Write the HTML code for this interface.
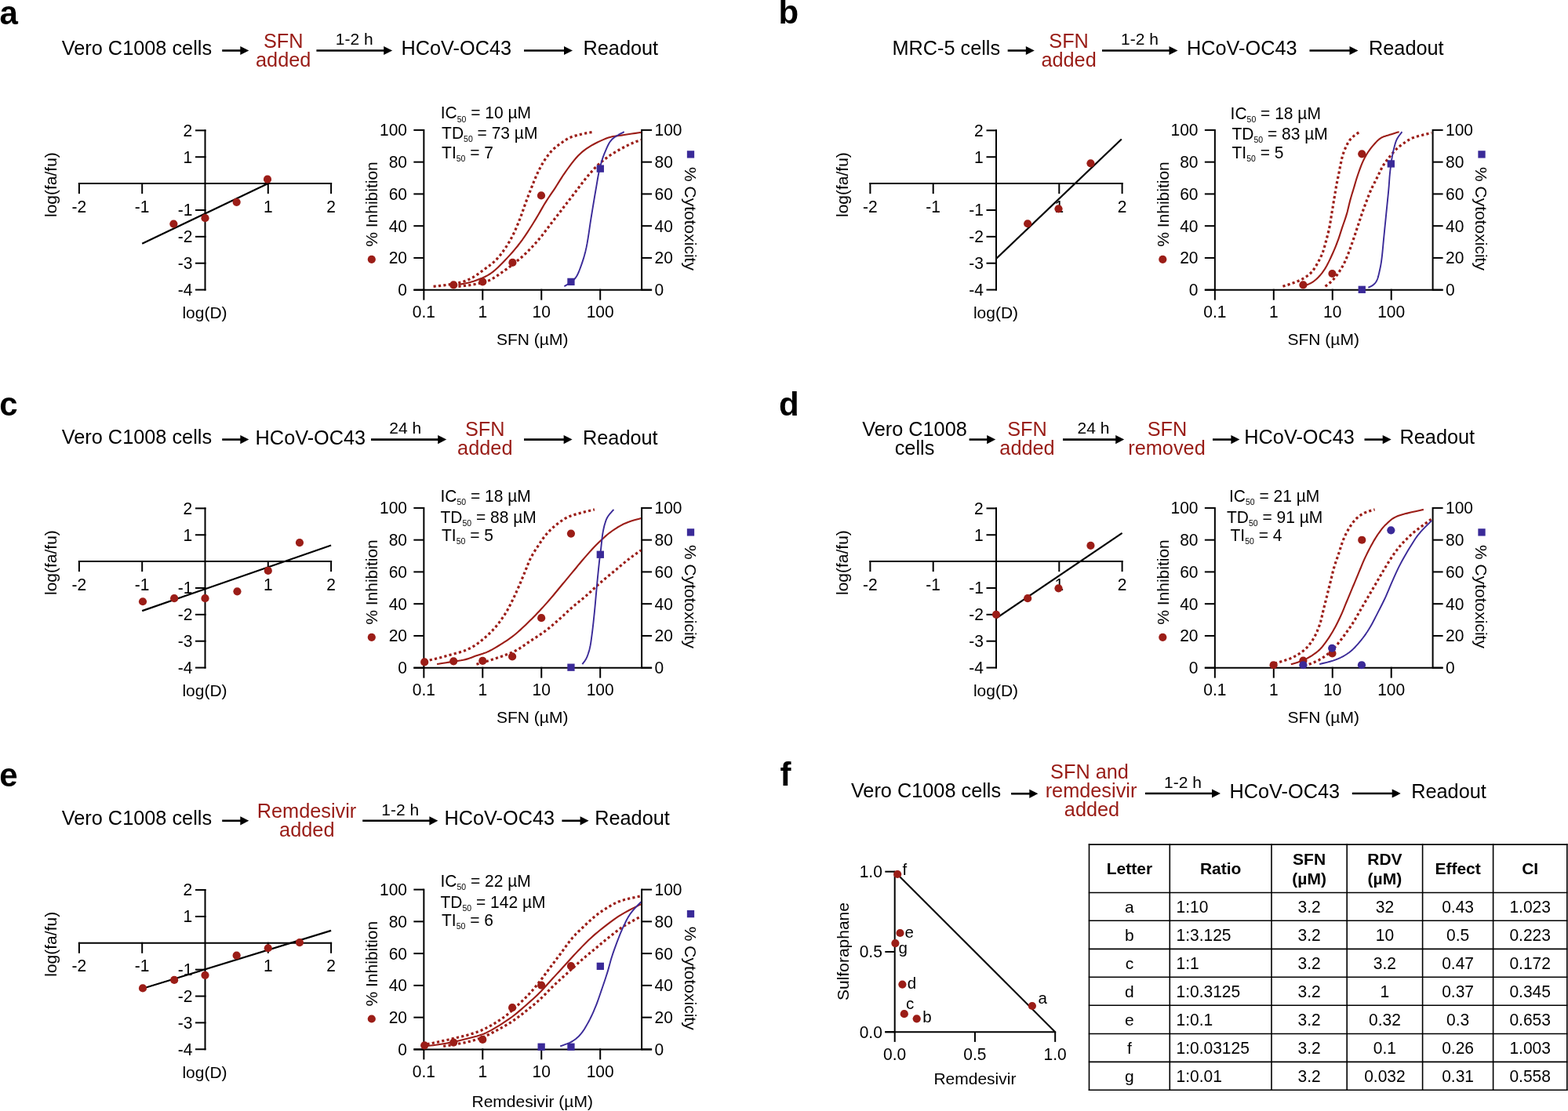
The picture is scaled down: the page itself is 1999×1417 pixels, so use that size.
<!DOCTYPE html>
<html><head><meta charset="utf-8"><title>Figure</title>
<style>html,body{margin:0;padding:0;background:#fff;overflow:hidden;}svg{display:block;}</style></head>
<body><svg width="1999" height="1417" viewBox="0 0 1999 1417" font-family="'Liberation Sans', Arial, Helvetica, sans-serif">
<rect width="1999" height="1417" fill="#fff"/>
<text x="-0.40" y="31.00" font-size="42" text-anchor="start" font-weight="bold" >a</text>
<text x="78.80" y="69.50" font-size="25.3" text-anchor="start" >Vero C1008 cells</text>
<line x1="283.20" y1="64.50" x2="307.30" y2="64.50" stroke="#000" stroke-width="2.6" />
<polygon points="306.30,58.90 317.30,64.50 306.30,70.10" fill="#000"/>
<text x="361.20" y="60.60" font-size="25.3" text-anchor="middle" fill="#981b15" >SFN</text>
<text x="361.20" y="84.50" font-size="25.3" text-anchor="middle" fill="#981b15" >added</text>
<text x="451.80" y="57.00" font-size="21" text-anchor="middle" >1-2 h</text>
<line x1="403.40" y1="64.50" x2="490.20" y2="64.50" stroke="#000" stroke-width="2.6" />
<polygon points="489.20,58.90 500.20,64.50 489.20,70.10" fill="#000"/>
<text x="511.50" y="70.00" font-size="25.3" text-anchor="start" >HCoV-OC43</text>
<line x1="668.00" y1="64.50" x2="720.00" y2="64.50" stroke="#000" stroke-width="2.6" />
<polygon points="719.00,58.90 730.00,64.50 719.00,70.10" fill="#000"/>
<text x="743.50" y="70.00" font-size="25.3" text-anchor="start" >Readout</text>
<line x1="99.90" y1="234.10" x2="423.10" y2="234.10" stroke="#000" stroke-width="2" />
<line x1="100.90" y1="233.10" x2="100.90" y2="247.10" stroke="#000" stroke-width="2" />
<text transform="translate(100.90,270.60) scale(1.0,1.03)" font-size="21" text-anchor="middle" >-2</text>
<line x1="181.20" y1="233.10" x2="181.20" y2="247.10" stroke="#000" stroke-width="2" />
<text transform="translate(181.20,270.60) scale(1.0,1.03)" font-size="21" text-anchor="middle" >-1</text>
<line x1="341.80" y1="233.10" x2="341.80" y2="247.10" stroke="#000" stroke-width="2" />
<text transform="translate(341.80,270.60) scale(1.0,1.03)" font-size="21" text-anchor="middle" >1</text>
<line x1="422.10" y1="233.10" x2="422.10" y2="247.10" stroke="#000" stroke-width="2" />
<text transform="translate(422.10,270.60) scale(1.0,1.03)" font-size="21" text-anchor="middle" >2</text>
<line x1="261.50" y1="165.36" x2="261.50" y2="370.58" stroke="#000" stroke-width="2" />
<line x1="249.00" y1="166.36" x2="262.50" y2="166.36" stroke="#000" stroke-width="2" />
<text transform="translate(245.30,173.76) scale(1.0,1.03)" font-size="21" text-anchor="end" >2</text>
<line x1="249.00" y1="200.23" x2="262.50" y2="200.23" stroke="#000" stroke-width="2" />
<text transform="translate(245.30,207.63) scale(1.0,1.03)" font-size="21" text-anchor="end" >1</text>
<line x1="249.00" y1="267.97" x2="262.50" y2="267.97" stroke="#000" stroke-width="2" />
<text transform="translate(245.30,275.37) scale(1.0,1.03)" font-size="21" text-anchor="end" >-1</text>
<line x1="249.00" y1="301.84" x2="262.50" y2="301.84" stroke="#000" stroke-width="2" />
<text transform="translate(245.30,309.24) scale(1.0,1.03)" font-size="21" text-anchor="end" >-2</text>
<line x1="249.00" y1="335.71" x2="262.50" y2="335.71" stroke="#000" stroke-width="2" />
<text transform="translate(245.30,343.11) scale(1.0,1.03)" font-size="21" text-anchor="end" >-3</text>
<line x1="249.00" y1="369.58" x2="262.50" y2="369.58" stroke="#000" stroke-width="2" />
<text transform="translate(245.30,376.98) scale(1.0,1.03)" font-size="21" text-anchor="end" >-4</text>
<text x="261.00" y="406.00" font-size="21" text-anchor="middle" >log(D)</text>
<text transform="translate(72.30,235.60) rotate(-90)" font-size="21" text-anchor="middle">log(fa/fu)</text>
<line x1="181.20" y1="310.65" x2="341.80" y2="234.10" stroke="#000" stroke-width="2.2" />
<circle cx="221.35" cy="285.58" r="5.1" fill="#9b1d17"/>
<circle cx="261.50" cy="278.13" r="5.1" fill="#9b1d17"/>
<circle cx="301.65" cy="257.81" r="5.1" fill="#9b1d17"/>
<circle cx="341.00" cy="228.68" r="5.1" fill="#9b1d17"/>
<line x1="527.35" y1="369.70" x2="831.10" y2="369.70" stroke="#000" stroke-width="2" />
<line x1="540.35" y1="164.90" x2="540.35" y2="370.70" stroke="#000" stroke-width="2" />
<line x1="818.10" y1="164.90" x2="818.10" y2="370.70" stroke="#000" stroke-width="2" />
<line x1="527.35" y1="369.70" x2="540.35" y2="369.70" stroke="#000" stroke-width="2" />
<line x1="818.10" y1="369.70" x2="831.10" y2="369.70" stroke="#000" stroke-width="2" />
<text transform="translate(519.05,377.10) scale(1.0,1.03)" font-size="21" text-anchor="end" >0</text>
<text transform="translate(834.50,377.10) scale(1.0,1.03)" font-size="21" text-anchor="start" >0</text>
<line x1="527.35" y1="328.94" x2="540.35" y2="328.94" stroke="#000" stroke-width="2" />
<line x1="818.10" y1="328.94" x2="831.10" y2="328.94" stroke="#000" stroke-width="2" />
<text transform="translate(519.05,336.34) scale(1.0,1.03)" font-size="21" text-anchor="end" >20</text>
<text transform="translate(834.50,336.34) scale(1.0,1.03)" font-size="21" text-anchor="start" >20</text>
<line x1="527.35" y1="288.18" x2="540.35" y2="288.18" stroke="#000" stroke-width="2" />
<line x1="818.10" y1="288.18" x2="831.10" y2="288.18" stroke="#000" stroke-width="2" />
<text transform="translate(519.05,295.58) scale(1.0,1.03)" font-size="21" text-anchor="end" >40</text>
<text transform="translate(834.50,295.58) scale(1.0,1.03)" font-size="21" text-anchor="start" >40</text>
<line x1="527.35" y1="247.42" x2="540.35" y2="247.42" stroke="#000" stroke-width="2" />
<line x1="818.10" y1="247.42" x2="831.10" y2="247.42" stroke="#000" stroke-width="2" />
<text transform="translate(519.05,254.82) scale(1.0,1.03)" font-size="21" text-anchor="end" >60</text>
<text transform="translate(834.50,254.82) scale(1.0,1.03)" font-size="21" text-anchor="start" >60</text>
<line x1="527.35" y1="206.66" x2="540.35" y2="206.66" stroke="#000" stroke-width="2" />
<line x1="818.10" y1="206.66" x2="831.10" y2="206.66" stroke="#000" stroke-width="2" />
<text transform="translate(519.05,214.06) scale(1.0,1.03)" font-size="21" text-anchor="end" >80</text>
<text transform="translate(834.50,214.06) scale(1.0,1.03)" font-size="21" text-anchor="start" >80</text>
<line x1="527.35" y1="165.90" x2="540.35" y2="165.90" stroke="#000" stroke-width="2" />
<line x1="818.10" y1="165.90" x2="831.10" y2="165.90" stroke="#000" stroke-width="2" />
<text transform="translate(519.05,173.30) scale(1.0,1.03)" font-size="21" text-anchor="end" >100</text>
<text transform="translate(834.50,173.30) scale(1.0,1.03)" font-size="21" text-anchor="start" >100</text>
<line x1="540.35" y1="368.70" x2="540.35" y2="382.70" stroke="#000" stroke-width="2" />
<text transform="translate(540.35,405.40) scale(1.0,1.03)" font-size="21" text-anchor="middle" >0.1</text>
<line x1="615.30" y1="368.70" x2="615.30" y2="382.70" stroke="#000" stroke-width="2" />
<text transform="translate(615.30,405.40) scale(1.0,1.03)" font-size="21" text-anchor="middle" >1</text>
<line x1="690.25" y1="368.70" x2="690.25" y2="382.70" stroke="#000" stroke-width="2" />
<text transform="translate(690.25,405.40) scale(1.0,1.03)" font-size="21" text-anchor="middle" >10</text>
<line x1="765.20" y1="368.70" x2="765.20" y2="382.70" stroke="#000" stroke-width="2" />
<text transform="translate(765.20,405.40) scale(1.0,1.03)" font-size="21" text-anchor="middle" >100</text>
<text x="678.73" y="439.50" font-size="21" text-anchor="middle" >SFN (µM)</text>
<text transform="translate(481.00,260.50) rotate(-90)" font-size="21" text-anchor="middle">% Inhibition</text>
<text transform="translate(872.50,279.00) rotate(90)" font-size="21" text-anchor="middle">% Cytotoxicity</text>
<circle cx="473.80" cy="330.80" r="5.1" fill="#9b1d17"/>
<rect x="875.85" y="192.25" width="9.3" height="9.3" fill="#3a2a98"/>
<text transform="translate(561.70,151.40) scale(1,1.03)" font-size="21">IC<tspan font-size="10.5" dy="4">50</tspan><tspan dy="-4"> = 10 µM</tspan></text>
<text transform="translate(563.10,177.00) scale(1,1.03)" font-size="21">TD<tspan font-size="10.5" dy="4">50</tspan><tspan dy="-4"> = 73 µM</tspan></text>
<text transform="translate(563.10,201.50) scale(1,1.03)" font-size="21">TI<tspan font-size="10.5" dy="4">50</tspan><tspan dy="-4"> = 7</tspan></text>
<polyline points="552.60,365.31 554.45,365.11 556.99,364.86 560.01,364.55 563.28,364.19 566.57,363.80 569.65,363.38 572.60,362.94 575.63,362.49 578.68,362.00 581.70,361.45 584.63,360.83 587.44,360.12 590.08,359.34 592.60,358.50 595.03,357.60 597.43,356.59 599.82,355.47 602.26,354.19 604.73,352.73 607.20,351.11 609.67,349.37 612.14,347.55 614.61,345.68 617.08,343.81 619.59,341.96 622.13,340.08 624.68,338.16 627.18,336.18 629.61,334.12 631.91,331.95 634.07,329.69 636.13,327.34 638.11,324.91 640.03,322.40 641.91,319.81 643.77,317.13 645.60,314.37 647.39,311.53 649.14,308.61 650.85,305.60 652.52,302.51 654.14,299.34 655.73,296.05 657.27,292.64 658.77,289.15 660.24,285.62 661.66,282.08 663.04,278.59 664.36,275.11 665.62,271.62 666.83,268.12 668.03,264.64 669.23,261.21 670.45,257.84 671.68,254.52 672.92,251.25 674.15,248.02 675.39,244.82 676.62,241.67 677.86,238.57 679.08,235.50 680.28,232.47 681.47,229.49 682.69,226.54 683.95,223.64 685.27,220.78 686.65,217.94 688.07,215.12 689.53,212.35 691.04,209.63 692.58,207.00 694.17,204.47 695.77,202.04 697.40,199.69 699.08,197.43 700.81,195.25 702.62,193.15 704.54,191.13 706.63,189.18 708.88,187.29 711.21,185.48 713.55,183.77 715.80,182.19 717.88,180.75 719.72,179.49 721.34,178.39 722.89,177.42 724.47,176.53 726.22,175.67 728.26,174.82 730.68,173.97 733.39,173.15 736.27,172.37 739.19,171.64 741.99,170.97 744.57,170.38 747.03,169.85 749.51,169.39 751.88,168.99 754.04,168.65 755.84,168.37 757.17,168.15" fill="none" stroke="#9b1d17" stroke-width="3.2" stroke-dasharray="3.2 3.2" stroke-linejoin="round"/>
<polyline points="584.47,365.31 586.37,365.10 588.97,364.84 592.07,364.52 595.45,364.13 598.92,363.65 602.26,363.08 605.58,362.46 609.07,361.79 612.64,361.05 616.20,360.17 619.69,359.14 623.01,357.90 626.15,356.41 629.16,354.71 632.09,352.85 634.98,350.87 637.87,348.83 640.80,346.78 643.80,344.68 646.84,342.49 649.88,340.25 652.88,337.97 655.80,335.69 658.59,333.44 661.23,331.25 663.75,329.10 666.19,326.95 668.58,324.76 670.98,322.49 673.41,320.09 675.88,317.58 678.35,314.99 680.82,312.31 683.29,309.55 685.77,306.71 688.24,303.79 690.71,300.75 693.18,297.58 695.65,294.34 698.12,291.05 700.59,287.76 703.06,284.52 705.53,281.31 708.00,278.09 710.47,274.88 712.94,271.67 715.41,268.46 717.88,265.25 720.35,262.04 722.82,258.82 725.29,255.61 727.77,252.40 730.24,249.19 732.71,245.98 735.18,242.73 737.65,239.44 740.12,236.16 742.59,232.91 745.06,229.75 747.53,226.71 750.00,223.77 752.47,220.89 754.94,218.09 757.41,215.40 759.88,212.83 762.35,210.40 764.82,208.13 767.30,206.01 769.77,204.01 772.24,202.11 774.71,200.29 777.18,198.54 779.65,196.87 782.12,195.30 784.59,193.82 787.06,192.39 789.53,191.01 792.00,189.65 794.52,188.28 797.11,186.93 799.69,185.62 802.21,184.38 804.61,183.24 806.82,182.24 808.93,181.36 811.00,180.59 812.94,179.92 814.68,179.35 816.12,178.89 817.20,178.53" fill="none" stroke="#9b1d17" stroke-width="3.2" stroke-dasharray="3.2 3.2" stroke-linejoin="round"/>
<polyline points="584.47,363.08 586.54,362.66 589.38,362.12 592.76,361.46 596.44,360.67 600.18,359.73 603.74,358.64 607.23,357.42 610.85,356.08 614.53,354.61 618.21,352.95 621.80,351.10 625.24,349.00 628.49,346.65 631.60,344.06 634.64,341.26 637.64,338.29 640.67,335.18 643.77,331.95 646.95,328.60 650.19,325.09 653.45,321.44 656.69,317.65 659.90,313.74 663.04,309.72 666.12,305.51 669.18,301.10 672.21,296.56 675.17,291.98 678.05,287.45 680.82,283.04 683.50,278.66 686.09,274.25 688.61,269.88 691.04,265.63 693.38,261.59 695.65,257.84 697.78,254.48 699.77,251.47 701.67,248.66 703.55,245.92 705.48,243.10 707.51,240.05 709.61,236.76 711.73,233.35 713.90,229.86 716.13,226.32 718.44,222.79 720.85,219.29 723.39,215.74 726.06,212.07 728.82,208.41 731.61,204.86 734.40,201.53 737.15,198.54 739.80,195.94 742.37,193.66 744.94,191.59 747.59,189.67 750.40,187.82 753.46,185.94 756.89,184.00 760.65,182.04 764.58,180.15 768.50,178.39 772.26,176.84 775.70,175.56 778.65,174.65 781.24,174.05 783.66,173.67 786.13,173.37 788.84,173.05 792.00,172.60 795.98,171.98 800.68,171.28 805.62,170.56 810.34,169.88 814.36,169.31 817.20,168.89" fill="none" stroke="#9b1d17" stroke-width="2.1" stroke-linejoin="round"/>
<polyline points="719.37,365.31 720.89,364.32 723.04,363.00 725.57,361.42 728.20,359.62 730.67,357.69 732.71,355.67 734.29,353.62 735.62,351.50 736.78,349.23 737.87,346.75 738.95,343.98 740.12,340.85 741.37,337.39 742.64,333.66 743.92,329.64 745.17,325.31 746.38,320.65 747.53,315.65 748.60,310.14 749.62,304.12 750.59,297.77 751.54,291.27 752.49,284.82 753.46,278.59 754.46,272.49 755.46,266.35 756.47,260.24 757.47,254.27 758.44,248.50 759.39,243.01 760.28,237.80 761.12,232.80 761.94,228.00 762.77,223.41 763.64,219.03 764.58,214.85 765.58,210.91 766.61,207.22 767.68,203.73 768.80,200.41 769.99,197.21 771.25,194.09 772.52,191.04 773.80,188.08 775.14,185.25 776.60,182.56 778.25,180.07 780.14,177.79 782.53,175.68 785.41,173.73 788.48,171.95 791.42,170.40 793.94,169.12 795.71,168.15" fill="none" stroke="#3a2a98" stroke-width="1.9" stroke-linejoin="round"/>
<circle cx="578.24" cy="363.38" r="5.1" fill="#9b1d17"/>
<circle cx="615.30" cy="359.38" r="5.1" fill="#9b1d17"/>
<circle cx="653.40" cy="334.92" r="5.1" fill="#9b1d17"/>
<circle cx="690.01" cy="249.39" r="5.1" fill="#9b1d17"/>
<rect x="723.31" y="354.73" width="9.3" height="9.3" fill="#3a2a98"/>
<rect x="760.67" y="210.49" width="9.3" height="9.3" fill="#3a2a98"/>
<text x="992.50" y="30.20" font-size="42" text-anchor="start" font-weight="bold" >b</text>
<text x="1137.40" y="69.50" font-size="25.3" text-anchor="start" >MRC-5 cells</text>
<line x1="1284.70" y1="64.50" x2="1308.80" y2="64.50" stroke="#000" stroke-width="2.6" />
<polygon points="1307.80,58.90 1318.80,64.50 1307.80,70.10" fill="#000"/>
<text x="1362.60" y="60.60" font-size="25.3" text-anchor="middle" fill="#981b15" >SFN</text>
<text x="1362.60" y="84.50" font-size="25.3" text-anchor="middle" fill="#981b15" >added</text>
<text x="1453.00" y="57.00" font-size="21" text-anchor="middle" >1-2 h</text>
<line x1="1405.00" y1="64.50" x2="1491.50" y2="64.50" stroke="#000" stroke-width="2.6" />
<polygon points="1490.50,58.90 1501.50,64.50 1490.50,70.10" fill="#000"/>
<text x="1513.00" y="70.00" font-size="25.3" text-anchor="start" >HCoV-OC43</text>
<line x1="1669.50" y1="64.50" x2="1721.50" y2="64.50" stroke="#000" stroke-width="2.6" />
<polygon points="1720.50,58.90 1731.50,64.50 1720.50,70.10" fill="#000"/>
<text x="1745.00" y="70.00" font-size="25.3" text-anchor="start" >Readout</text>
<line x1="1108.40" y1="234.10" x2="1431.60" y2="234.10" stroke="#000" stroke-width="2" />
<line x1="1109.40" y1="233.10" x2="1109.40" y2="247.10" stroke="#000" stroke-width="2" />
<text transform="translate(1109.40,270.60) scale(1.0,1.03)" font-size="21" text-anchor="middle" >-2</text>
<line x1="1189.70" y1="233.10" x2="1189.70" y2="247.10" stroke="#000" stroke-width="2" />
<text transform="translate(1189.70,270.60) scale(1.0,1.03)" font-size="21" text-anchor="middle" >-1</text>
<line x1="1350.30" y1="233.10" x2="1350.30" y2="247.10" stroke="#000" stroke-width="2" />
<text transform="translate(1350.30,270.60) scale(1.0,1.03)" font-size="21" text-anchor="middle" >1</text>
<line x1="1430.60" y1="233.10" x2="1430.60" y2="247.10" stroke="#000" stroke-width="2" />
<text transform="translate(1430.60,270.60) scale(1.0,1.03)" font-size="21" text-anchor="middle" >2</text>
<line x1="1270.00" y1="165.36" x2="1270.00" y2="370.58" stroke="#000" stroke-width="2" />
<line x1="1257.50" y1="166.36" x2="1271.00" y2="166.36" stroke="#000" stroke-width="2" />
<text transform="translate(1253.80,173.76) scale(1.0,1.03)" font-size="21" text-anchor="end" >2</text>
<line x1="1257.50" y1="200.23" x2="1271.00" y2="200.23" stroke="#000" stroke-width="2" />
<text transform="translate(1253.80,207.63) scale(1.0,1.03)" font-size="21" text-anchor="end" >1</text>
<line x1="1257.50" y1="267.97" x2="1271.00" y2="267.97" stroke="#000" stroke-width="2" />
<text transform="translate(1253.80,275.37) scale(1.0,1.03)" font-size="21" text-anchor="end" >-1</text>
<line x1="1257.50" y1="301.84" x2="1271.00" y2="301.84" stroke="#000" stroke-width="2" />
<text transform="translate(1253.80,309.24) scale(1.0,1.03)" font-size="21" text-anchor="end" >-2</text>
<line x1="1257.50" y1="335.71" x2="1271.00" y2="335.71" stroke="#000" stroke-width="2" />
<text transform="translate(1253.80,343.11) scale(1.0,1.03)" font-size="21" text-anchor="end" >-3</text>
<line x1="1257.50" y1="369.58" x2="1271.00" y2="369.58" stroke="#000" stroke-width="2" />
<text transform="translate(1253.80,376.98) scale(1.0,1.03)" font-size="21" text-anchor="end" >-4</text>
<text x="1269.50" y="406.00" font-size="21" text-anchor="middle" >log(D)</text>
<text transform="translate(1080.80,235.60) rotate(-90)" font-size="21" text-anchor="middle">log(fa/fu)</text>
<line x1="1270.00" y1="329.95" x2="1429.80" y2="177.54" stroke="#000" stroke-width="2.2" />
<circle cx="1310.15" cy="285.24" r="5.1" fill="#9b1d17"/>
<circle cx="1349.50" cy="266.28" r="5.1" fill="#9b1d17"/>
<circle cx="1390.45" cy="208.36" r="5.1" fill="#9b1d17"/>
<line x1="1535.85" y1="369.70" x2="1839.60" y2="369.70" stroke="#000" stroke-width="2" />
<line x1="1548.85" y1="164.90" x2="1548.85" y2="370.70" stroke="#000" stroke-width="2" />
<line x1="1826.60" y1="164.90" x2="1826.60" y2="370.70" stroke="#000" stroke-width="2" />
<line x1="1535.85" y1="369.70" x2="1548.85" y2="369.70" stroke="#000" stroke-width="2" />
<line x1="1826.60" y1="369.70" x2="1839.60" y2="369.70" stroke="#000" stroke-width="2" />
<text transform="translate(1527.55,377.10) scale(1.0,1.03)" font-size="21" text-anchor="end" >0</text>
<text transform="translate(1843.00,377.10) scale(1.0,1.03)" font-size="21" text-anchor="start" >0</text>
<line x1="1535.85" y1="328.94" x2="1548.85" y2="328.94" stroke="#000" stroke-width="2" />
<line x1="1826.60" y1="328.94" x2="1839.60" y2="328.94" stroke="#000" stroke-width="2" />
<text transform="translate(1527.55,336.34) scale(1.0,1.03)" font-size="21" text-anchor="end" >20</text>
<text transform="translate(1843.00,336.34) scale(1.0,1.03)" font-size="21" text-anchor="start" >20</text>
<line x1="1535.85" y1="288.18" x2="1548.85" y2="288.18" stroke="#000" stroke-width="2" />
<line x1="1826.60" y1="288.18" x2="1839.60" y2="288.18" stroke="#000" stroke-width="2" />
<text transform="translate(1527.55,295.58) scale(1.0,1.03)" font-size="21" text-anchor="end" >40</text>
<text transform="translate(1843.00,295.58) scale(1.0,1.03)" font-size="21" text-anchor="start" >40</text>
<line x1="1535.85" y1="247.42" x2="1548.85" y2="247.42" stroke="#000" stroke-width="2" />
<line x1="1826.60" y1="247.42" x2="1839.60" y2="247.42" stroke="#000" stroke-width="2" />
<text transform="translate(1527.55,254.82) scale(1.0,1.03)" font-size="21" text-anchor="end" >60</text>
<text transform="translate(1843.00,254.82) scale(1.0,1.03)" font-size="21" text-anchor="start" >60</text>
<line x1="1535.85" y1="206.66" x2="1548.85" y2="206.66" stroke="#000" stroke-width="2" />
<line x1="1826.60" y1="206.66" x2="1839.60" y2="206.66" stroke="#000" stroke-width="2" />
<text transform="translate(1527.55,214.06) scale(1.0,1.03)" font-size="21" text-anchor="end" >80</text>
<text transform="translate(1843.00,214.06) scale(1.0,1.03)" font-size="21" text-anchor="start" >80</text>
<line x1="1535.85" y1="165.90" x2="1548.85" y2="165.90" stroke="#000" stroke-width="2" />
<line x1="1826.60" y1="165.90" x2="1839.60" y2="165.90" stroke="#000" stroke-width="2" />
<text transform="translate(1527.55,173.30) scale(1.0,1.03)" font-size="21" text-anchor="end" >100</text>
<text transform="translate(1843.00,173.30) scale(1.0,1.03)" font-size="21" text-anchor="start" >100</text>
<line x1="1548.85" y1="368.70" x2="1548.85" y2="382.70" stroke="#000" stroke-width="2" />
<text transform="translate(1548.85,405.40) scale(1.0,1.03)" font-size="21" text-anchor="middle" >0.1</text>
<line x1="1623.80" y1="368.70" x2="1623.80" y2="382.70" stroke="#000" stroke-width="2" />
<text transform="translate(1623.80,405.40) scale(1.0,1.03)" font-size="21" text-anchor="middle" >1</text>
<line x1="1698.75" y1="368.70" x2="1698.75" y2="382.70" stroke="#000" stroke-width="2" />
<text transform="translate(1698.75,405.40) scale(1.0,1.03)" font-size="21" text-anchor="middle" >10</text>
<line x1="1773.70" y1="368.70" x2="1773.70" y2="382.70" stroke="#000" stroke-width="2" />
<text transform="translate(1773.70,405.40) scale(1.0,1.03)" font-size="21" text-anchor="middle" >100</text>
<text x="1687.22" y="439.50" font-size="21" text-anchor="middle" >SFN (µM)</text>
<text transform="translate(1489.50,260.50) rotate(-90)" font-size="21" text-anchor="middle">% Inhibition</text>
<text transform="translate(1881.00,279.00) rotate(90)" font-size="21" text-anchor="middle">% Cytotoxicity</text>
<circle cx="1482.30" cy="330.80" r="5.1" fill="#9b1d17"/>
<rect x="1884.35" y="192.25" width="9.3" height="9.3" fill="#3a2a98"/>
<text transform="translate(1568.60,151.50) scale(1,1.03)" font-size="21">IC<tspan font-size="10.5" dy="4">50</tspan><tspan dy="-4"> = 18 µM</tspan></text>
<text transform="translate(1570.50,178.00) scale(1,1.03)" font-size="21">TD<tspan font-size="10.5" dy="4">50</tspan><tspan dy="-4"> = 83 µM</tspan></text>
<text transform="translate(1570.50,202.00) scale(1,1.03)" font-size="21">TI<tspan font-size="10.5" dy="4">50</tspan><tspan dy="-4"> = 5</tspan></text>
<polyline points="1635.46,365.31 1636.93,364.83 1638.97,364.18 1641.39,363.41 1643.97,362.56 1646.51,361.70 1648.80,360.86 1650.88,360.06 1652.92,359.27 1654.92,358.45 1656.87,357.59 1658.79,356.67 1660.66,355.67 1662.51,354.60 1664.34,353.48 1666.13,352.29 1667.85,351.03 1669.50,349.69 1671.04,348.26 1672.44,346.75 1673.73,345.19 1674.93,343.53 1676.09,341.78 1677.25,339.90 1678.45,337.88 1679.72,335.67 1681.03,333.27 1682.34,330.75 1683.61,328.17 1684.80,325.58 1685.86,323.06 1686.77,320.62 1687.56,318.23 1688.27,315.83 1688.93,313.40 1689.60,310.88 1690.31,308.24 1691.06,305.44 1691.84,302.53 1692.62,299.53 1693.38,296.49 1694.10,293.45 1694.75,290.45 1695.33,287.48 1695.85,284.52 1696.33,281.55 1696.79,278.59 1697.24,275.62 1697.72,272.66 1698.21,269.69 1698.71,266.73 1699.20,263.77 1699.69,260.80 1700.19,257.84 1700.68,254.87 1701.18,251.87 1701.67,248.83 1702.17,245.79 1702.66,242.79 1703.15,239.88 1703.65,237.08 1704.14,234.44 1704.64,231.92 1705.13,229.49 1705.62,227.09 1706.12,224.70 1706.61,222.26 1707.11,219.75 1707.60,217.21 1708.09,214.66 1708.59,212.16 1709.08,209.73 1709.58,207.44 1710.04,205.30 1710.46,203.32 1710.87,201.41 1711.33,199.53 1711.88,197.60 1712.54,195.58 1713.36,193.37 1714.30,191.02 1715.32,188.63 1716.39,186.30 1717.45,184.13 1718.47,182.24 1719.43,180.65 1720.34,179.30 1721.25,178.11 1722.20,177.02 1723.24,175.95 1724.40,174.82 1725.81,173.59 1727.48,172.30 1729.22,171.03 1730.88,169.85 1732.29,168.87 1733.29,168.15" fill="none" stroke="#9b1d17" stroke-width="3.2" stroke-dasharray="3.2 3.2" stroke-linejoin="round"/>
<polyline points="1689.57,365.31 1690.46,364.61 1691.71,363.66 1693.18,362.53 1694.75,361.27 1696.31,359.95 1697.72,358.64 1699.00,357.32 1700.24,355.95 1701.47,354.51 1702.69,353.01 1703.90,351.42 1705.13,349.74 1706.38,347.95 1707.66,346.06 1708.93,344.09 1710.18,342.06 1711.39,339.98 1712.54,337.88 1713.62,335.78 1714.63,333.66 1715.60,331.49 1716.55,329.26 1717.50,326.95 1718.47,324.54 1719.46,322.01 1720.45,319.38 1721.44,316.67 1722.42,313.89 1723.41,311.07 1724.40,308.24 1725.39,305.36 1726.38,302.42 1727.37,299.43 1728.35,296.43 1729.34,293.43 1730.33,290.45 1731.32,287.47 1732.31,284.46 1733.29,281.46 1734.28,278.48 1735.27,275.54 1736.26,272.66 1737.25,269.84 1738.24,267.06 1739.22,264.32 1740.21,261.62 1741.20,258.97 1742.19,256.35 1743.16,253.80 1744.11,251.30 1745.06,248.85 1746.03,246.42 1747.04,243.98 1748.12,241.53 1749.27,239.06 1750.48,236.59 1751.73,234.12 1753.00,231.65 1754.28,229.18 1755.53,226.71 1756.77,224.18 1758.00,221.60 1759.24,219.02 1760.47,216.49 1761.71,214.10 1762.94,211.88 1764.16,209.90 1765.36,208.09 1766.56,206.42 1767.77,204.80 1769.03,203.18 1770.35,201.51 1771.75,199.74 1773.21,197.94 1774.71,196.13 1776.23,194.37 1777.75,192.69 1779.25,191.13 1780.70,189.72 1782.10,188.44 1783.51,187.24 1784.96,186.08 1786.49,184.92 1788.14,183.72 1789.91,182.45 1791.77,181.14 1793.70,179.83 1795.72,178.56 1797.82,177.37 1800.00,176.31 1802.35,175.37 1804.89,174.52 1807.51,173.76 1810.10,173.07 1812.58,172.44 1814.82,171.86 1816.93,171.33 1819.00,170.87 1820.94,170.47 1822.68,170.13 1824.12,169.85 1825.20,169.64" fill="none" stroke="#9b1d17" stroke-width="3.2" stroke-dasharray="3.2 3.2" stroke-linejoin="round"/>
<polyline points="1665.11,363.82 1666.07,363.38 1667.41,362.81 1669.00,362.11 1670.71,361.30 1672.42,360.38 1674.00,359.38 1675.50,358.26 1677.02,357.02 1678.54,355.67 1680.04,354.24 1681.50,352.75 1682.89,351.22 1684.22,349.68 1685.48,348.10 1686.69,346.45 1687.89,344.72 1689.09,342.86 1690.31,340.85 1691.54,338.67 1692.78,336.35 1694.01,333.90 1695.25,331.35 1696.48,328.72 1697.72,326.02 1698.97,323.23 1700.24,320.31 1701.52,317.32 1702.77,314.28 1703.98,311.24 1705.13,308.24 1706.20,305.27 1707.22,302.31 1708.19,299.34 1709.14,296.38 1710.09,293.41 1711.06,290.45 1712.06,287.48 1713.09,284.52 1714.12,281.55 1715.12,278.59 1716.09,275.62 1716.99,272.66 1717.82,269.66 1718.58,266.62 1719.31,263.58 1720.01,260.58 1720.71,257.66 1721.44,254.87 1722.18,252.23 1722.92,249.71 1723.66,247.27 1724.40,244.88 1725.14,242.48 1725.88,240.05 1726.61,237.59 1727.31,235.16 1728.01,232.73 1728.74,230.27 1729.50,227.78 1730.33,225.22 1731.23,222.54 1732.20,219.73 1733.20,216.89 1734.23,214.08 1735.25,211.40 1736.26,208.92 1737.23,206.67 1738.18,204.58 1739.13,202.62 1740.10,200.74 1741.12,198.90 1742.19,197.06 1743.30,195.24 1744.44,193.49 1745.62,191.78 1746.86,190.09 1748.18,188.39 1749.60,186.68 1751.14,184.88 1752.79,183.00 1754.51,181.12 1756.30,179.33 1758.13,177.69 1759.98,176.31 1761.87,175.21 1763.82,174.36 1765.81,173.67 1767.83,173.07 1769.84,172.49 1771.84,171.86 1773.95,171.16 1776.23,170.43 1778.51,169.73 1780.62,169.09 1782.41,168.55 1783.70,168.15" fill="none" stroke="#9b1d17" stroke-width="2.1" stroke-linejoin="round"/>
<polyline points="1744.41,366.79 1745.16,366.41 1746.22,365.91 1747.47,365.31 1748.78,364.62 1750.02,363.87 1751.08,363.08 1751.97,362.28 1752.79,361.44 1753.54,360.54 1754.24,359.54 1754.90,358.43 1755.53,357.15 1756.11,355.75 1756.63,354.24 1757.11,352.61 1757.56,350.84 1758.02,348.90 1758.50,346.78 1758.99,344.56 1759.48,342.28 1759.98,339.83 1760.47,337.11 1760.97,334.03 1761.46,330.47 1761.95,326.30 1762.45,321.58 1762.94,316.48 1763.44,311.20 1763.93,305.92 1764.42,300.82 1764.92,295.88 1765.41,290.94 1765.91,286.00 1766.40,281.06 1766.90,276.12 1767.39,271.18 1767.90,266.12 1768.43,260.91 1768.96,255.70 1769.48,250.64 1769.95,245.87 1770.35,241.53 1770.68,237.70 1770.93,234.28 1771.14,231.15 1771.34,228.19 1771.56,225.27 1771.84,222.26 1772.16,219.17 1772.50,216.11 1772.86,213.09 1773.24,210.13 1773.64,207.25 1774.06,204.47 1774.50,201.79 1774.97,199.20 1775.45,196.69 1775.95,194.26 1776.48,191.91 1777.02,189.65 1777.57,187.47 1778.10,185.39 1778.65,183.39 1779.25,181.47 1779.93,179.60 1780.73,177.79 1781.75,175.94 1782.98,174.05 1784.30,172.23 1785.56,170.57 1786.64,169.18 1787.40,168.15" fill="none" stroke="#3a2a98" stroke-width="1.9" stroke-linejoin="round"/>
<circle cx="1661.40" cy="363.38" r="5.1" fill="#9b1d17"/>
<circle cx="1698.46" cy="349.00" r="5.1" fill="#9b1d17"/>
<circle cx="1736.26" cy="196.32" r="5.1" fill="#9b1d17"/>
<rect x="1731.61" y="364.66" width="9.3" height="9.3" fill="#3a2a98"/>
<rect x="1768.67" y="204.27" width="9.3" height="9.3" fill="#3a2a98"/>
<text x="-0.70" y="530.00" font-size="42" text-anchor="start" font-weight="bold" >c</text>
<text x="78.80" y="566.00" font-size="25.3" text-anchor="start" >Vero C1008 cells</text>
<line x1="283.20" y1="560.60" x2="307.30" y2="560.60" stroke="#000" stroke-width="2.6" />
<polygon points="306.30,555.00 317.30,560.60 306.30,566.20" fill="#000"/>
<text x="325.60" y="566.50" font-size="25.3" text-anchor="start" >HCoV-OC43</text>
<line x1="473.00" y1="560.60" x2="559.20" y2="560.60" stroke="#000" stroke-width="2.6" />
<polygon points="558.20,555.00 569.20,560.60 558.20,566.20" fill="#000"/>
<text x="516.80" y="553.00" font-size="21" text-anchor="middle" >24 h</text>
<text x="618.30" y="556.20" font-size="25.3" text-anchor="middle" fill="#981b15" >SFN</text>
<text x="618.30" y="580.20" font-size="25.3" text-anchor="middle" fill="#981b15" >added</text>
<line x1="668.00" y1="560.60" x2="719.60" y2="560.60" stroke="#000" stroke-width="2.6" />
<polygon points="718.60,555.00 729.60,560.60 718.60,566.20" fill="#000"/>
<text x="743.00" y="566.50" font-size="25.3" text-anchor="start" >Readout</text>
<line x1="99.90" y1="716.10" x2="423.10" y2="716.10" stroke="#000" stroke-width="2" />
<line x1="100.90" y1="715.10" x2="100.90" y2="729.10" stroke="#000" stroke-width="2" />
<text transform="translate(100.90,752.60) scale(1.0,1.03)" font-size="21" text-anchor="middle" >-2</text>
<line x1="181.20" y1="715.10" x2="181.20" y2="729.10" stroke="#000" stroke-width="2" />
<text transform="translate(181.20,752.60) scale(1.0,1.03)" font-size="21" text-anchor="middle" >-1</text>
<line x1="341.80" y1="715.10" x2="341.80" y2="729.10" stroke="#000" stroke-width="2" />
<text transform="translate(341.80,752.60) scale(1.0,1.03)" font-size="21" text-anchor="middle" >1</text>
<line x1="422.10" y1="715.10" x2="422.10" y2="729.10" stroke="#000" stroke-width="2" />
<text transform="translate(422.10,752.60) scale(1.0,1.03)" font-size="21" text-anchor="middle" >2</text>
<line x1="261.50" y1="647.36" x2="261.50" y2="852.58" stroke="#000" stroke-width="2" />
<line x1="249.00" y1="648.36" x2="262.50" y2="648.36" stroke="#000" stroke-width="2" />
<text transform="translate(245.30,655.76) scale(1.0,1.03)" font-size="21" text-anchor="end" >2</text>
<line x1="249.00" y1="682.23" x2="262.50" y2="682.23" stroke="#000" stroke-width="2" />
<text transform="translate(245.30,689.63) scale(1.0,1.03)" font-size="21" text-anchor="end" >1</text>
<line x1="249.00" y1="749.97" x2="262.50" y2="749.97" stroke="#000" stroke-width="2" />
<text transform="translate(245.30,757.37) scale(1.0,1.03)" font-size="21" text-anchor="end" >-1</text>
<line x1="249.00" y1="783.84" x2="262.50" y2="783.84" stroke="#000" stroke-width="2" />
<text transform="translate(245.30,791.24) scale(1.0,1.03)" font-size="21" text-anchor="end" >-2</text>
<line x1="249.00" y1="817.71" x2="262.50" y2="817.71" stroke="#000" stroke-width="2" />
<text transform="translate(245.30,825.11) scale(1.0,1.03)" font-size="21" text-anchor="end" >-3</text>
<line x1="249.00" y1="851.58" x2="262.50" y2="851.58" stroke="#000" stroke-width="2" />
<text transform="translate(245.30,858.98) scale(1.0,1.03)" font-size="21" text-anchor="end" >-4</text>
<text x="261.00" y="888.00" font-size="21" text-anchor="middle" >log(D)</text>
<text transform="translate(72.30,717.60) rotate(-90)" font-size="21" text-anchor="middle">log(fa/fu)</text>
<line x1="181.20" y1="779.10" x2="422.10" y2="695.44" stroke="#000" stroke-width="2.2" />
<circle cx="182.00" cy="767.24" r="5.1" fill="#9b1d17"/>
<circle cx="222.15" cy="763.18" r="5.1" fill="#9b1d17"/>
<circle cx="261.50" cy="763.18" r="5.1" fill="#9b1d17"/>
<circle cx="302.45" cy="754.37" r="5.1" fill="#9b1d17"/>
<circle cx="341.80" cy="727.95" r="5.1" fill="#9b1d17"/>
<circle cx="381.95" cy="692.05" r="5.1" fill="#9b1d17"/>
<line x1="527.35" y1="851.70" x2="831.10" y2="851.70" stroke="#000" stroke-width="2" />
<line x1="540.35" y1="646.90" x2="540.35" y2="852.70" stroke="#000" stroke-width="2" />
<line x1="818.10" y1="646.90" x2="818.10" y2="852.70" stroke="#000" stroke-width="2" />
<line x1="527.35" y1="851.70" x2="540.35" y2="851.70" stroke="#000" stroke-width="2" />
<line x1="818.10" y1="851.70" x2="831.10" y2="851.70" stroke="#000" stroke-width="2" />
<text transform="translate(519.05,859.10) scale(1.0,1.03)" font-size="21" text-anchor="end" >0</text>
<text transform="translate(834.50,859.10) scale(1.0,1.03)" font-size="21" text-anchor="start" >0</text>
<line x1="527.35" y1="810.94" x2="540.35" y2="810.94" stroke="#000" stroke-width="2" />
<line x1="818.10" y1="810.94" x2="831.10" y2="810.94" stroke="#000" stroke-width="2" />
<text transform="translate(519.05,818.34) scale(1.0,1.03)" font-size="21" text-anchor="end" >20</text>
<text transform="translate(834.50,818.34) scale(1.0,1.03)" font-size="21" text-anchor="start" >20</text>
<line x1="527.35" y1="770.18" x2="540.35" y2="770.18" stroke="#000" stroke-width="2" />
<line x1="818.10" y1="770.18" x2="831.10" y2="770.18" stroke="#000" stroke-width="2" />
<text transform="translate(519.05,777.58) scale(1.0,1.03)" font-size="21" text-anchor="end" >40</text>
<text transform="translate(834.50,777.58) scale(1.0,1.03)" font-size="21" text-anchor="start" >40</text>
<line x1="527.35" y1="729.42" x2="540.35" y2="729.42" stroke="#000" stroke-width="2" />
<line x1="818.10" y1="729.42" x2="831.10" y2="729.42" stroke="#000" stroke-width="2" />
<text transform="translate(519.05,736.82) scale(1.0,1.03)" font-size="21" text-anchor="end" >60</text>
<text transform="translate(834.50,736.82) scale(1.0,1.03)" font-size="21" text-anchor="start" >60</text>
<line x1="527.35" y1="688.66" x2="540.35" y2="688.66" stroke="#000" stroke-width="2" />
<line x1="818.10" y1="688.66" x2="831.10" y2="688.66" stroke="#000" stroke-width="2" />
<text transform="translate(519.05,696.06) scale(1.0,1.03)" font-size="21" text-anchor="end" >80</text>
<text transform="translate(834.50,696.06) scale(1.0,1.03)" font-size="21" text-anchor="start" >80</text>
<line x1="527.35" y1="647.90" x2="540.35" y2="647.90" stroke="#000" stroke-width="2" />
<line x1="818.10" y1="647.90" x2="831.10" y2="647.90" stroke="#000" stroke-width="2" />
<text transform="translate(519.05,655.30) scale(1.0,1.03)" font-size="21" text-anchor="end" >100</text>
<text transform="translate(834.50,655.30) scale(1.0,1.03)" font-size="21" text-anchor="start" >100</text>
<line x1="540.35" y1="850.70" x2="540.35" y2="864.70" stroke="#000" stroke-width="2" />
<text transform="translate(540.35,887.40) scale(1.0,1.03)" font-size="21" text-anchor="middle" >0.1</text>
<line x1="615.30" y1="850.70" x2="615.30" y2="864.70" stroke="#000" stroke-width="2" />
<text transform="translate(615.30,887.40) scale(1.0,1.03)" font-size="21" text-anchor="middle" >1</text>
<line x1="690.25" y1="850.70" x2="690.25" y2="864.70" stroke="#000" stroke-width="2" />
<text transform="translate(690.25,887.40) scale(1.0,1.03)" font-size="21" text-anchor="middle" >10</text>
<line x1="765.20" y1="850.70" x2="765.20" y2="864.70" stroke="#000" stroke-width="2" />
<text transform="translate(765.20,887.40) scale(1.0,1.03)" font-size="21" text-anchor="middle" >100</text>
<text x="678.73" y="921.50" font-size="21" text-anchor="middle" >SFN (µM)</text>
<text transform="translate(481.00,742.50) rotate(-90)" font-size="21" text-anchor="middle">% Inhibition</text>
<text transform="translate(872.50,761.00) rotate(90)" font-size="21" text-anchor="middle">% Cytotoxicity</text>
<circle cx="473.80" cy="812.80" r="5.1" fill="#9b1d17"/>
<rect x="875.85" y="674.25" width="9.3" height="9.3" fill="#3a2a98"/>
<text transform="translate(561.50,639.50) scale(1,1.03)" font-size="21">IC<tspan font-size="10.5" dy="4">50</tspan><tspan dy="-4"> = 18 µM</tspan></text>
<text transform="translate(561.50,666.50) scale(1,1.03)" font-size="21">TD<tspan font-size="10.5" dy="4">50</tspan><tspan dy="-4"> = 88 µM</tspan></text>
<text transform="translate(563.00,690.00) scale(1,1.03)" font-size="21">TI<tspan font-size="10.5" dy="4">50</tspan><tspan dy="-4"> = 5</tspan></text>
<polyline points="541.48,843.34 543.26,842.95 545.71,842.41 548.62,841.77 551.75,841.06 554.88,840.34 557.79,839.64 560.49,838.95 563.17,838.24 565.85,837.51 568.55,836.75 571.29,835.98 574.09,835.19 577.02,834.38 580.08,833.57 583.17,832.73 586.23,831.87 589.16,830.96 591.88,830.00 594.36,829.02 596.66,828.02 598.83,826.99 600.94,825.88 603.05,824.67 605.22,823.33 607.45,821.85 609.67,820.26 611.89,818.56 614.12,816.77 616.34,814.90 618.57,812.95 620.81,810.94 623.07,808.84 625.33,806.65 627.57,804.39 629.77,802.04 631.91,799.61 634.00,797.07 636.08,794.40 638.11,791.64 640.09,788.85 641.98,786.06 643.77,783.31 645.42,780.62 646.95,777.98 648.40,775.34 649.80,772.66 651.21,769.89 652.66,767.00 654.16,763.94 655.68,760.74 657.20,757.46 658.70,754.15 660.16,750.89 661.55,747.73 662.87,744.68 664.13,741.69 665.35,738.74 666.55,735.82 667.75,732.89 668.97,729.94 670.18,726.94 671.38,723.90 672.58,720.86 673.80,717.86 675.06,714.95 676.38,712.15 677.76,709.51 679.18,706.99 680.64,704.56 682.14,702.16 683.69,699.77 685.27,697.33 686.90,694.82 688.57,692.28 690.27,689.73 692.02,687.23 693.82,684.81 695.65,682.51 697.50,680.34 699.38,678.28 701.30,676.30 703.28,674.38 705.34,672.50 707.51,670.65 709.81,668.77 712.23,666.89 714.73,665.04 717.28,663.29 719.83,661.68 722.33,660.27 724.73,659.11 727.05,658.16 729.37,657.35 731.77,656.62 734.34,655.89 737.15,655.08 740.51,654.16 744.40,653.16 748.46,652.16 752.31,651.24 755.58,650.46 757.91,649.89" fill="none" stroke="#9b1d17" stroke-width="3.2" stroke-dasharray="3.2 3.2" stroke-linejoin="round"/>
<polyline points="607.45,847.34 609.12,846.84 611.40,846.16 614.12,845.34 617.08,844.45 620.11,843.52 623.01,842.60 625.85,841.70 628.78,840.77 631.77,839.80 634.79,838.80 637.81,837.76 640.80,836.67 643.77,835.57 646.73,834.48 649.69,833.34 652.66,832.11 655.62,830.77 658.59,829.26 661.55,827.54 664.52,825.64 667.48,823.61 670.45,821.52 673.41,819.43 676.38,817.40 679.34,815.46 682.31,813.56 685.27,811.66 688.24,809.71 691.20,807.69 694.17,805.54 697.13,803.26 700.09,800.88 703.06,798.41 706.02,795.88 708.99,793.31 711.95,790.72 714.92,788.07 717.88,785.34 720.85,782.57 723.81,779.79 726.78,777.06 729.74,774.41 732.71,771.87 735.67,769.42 738.64,767.00 741.60,764.58 744.57,762.13 747.53,759.59 750.50,756.94 753.46,754.21 756.42,751.44 759.39,748.66 762.35,745.93 765.32,743.28 768.28,740.73 771.25,738.23 774.21,735.78 777.18,733.35 780.14,730.91 783.11,728.46 786.09,725.95 789.09,723.41 792.09,720.86 795.08,718.36 798.02,715.93 800.90,713.64 803.89,711.35 807.04,709.02 810.16,706.78 813.03,704.74 815.44,703.03 817.20,701.78" fill="none" stroke="#9b1d17" stroke-width="3.2" stroke-dasharray="3.2 3.2" stroke-linejoin="round"/>
<polyline points="557.05,847.05 559.07,846.73 561.88,846.28 565.20,845.75 568.77,845.18 572.32,844.61 575.58,844.08 578.62,843.61 581.67,843.18 584.70,842.74 587.68,842.27 590.58,841.74 593.36,841.12 596.01,840.38 598.53,839.55 600.96,838.66 603.36,837.74 605.75,836.82 608.19,835.93 610.62,835.13 613.02,834.39 615.42,833.66 617.85,832.86 620.37,831.91 623.01,830.74 625.84,829.31 628.83,827.67 631.91,825.88 634.98,824.02 637.97,822.16 640.80,820.37 643.44,818.67 645.96,817.02 648.40,815.36 650.79,813.67 653.19,811.89 655.62,809.99 658.09,807.95 660.57,805.82 663.04,803.60 665.51,801.31 667.98,798.99 670.45,796.65 672.92,794.28 675.39,791.87 677.86,789.42 680.33,786.93 682.80,784.40 685.27,781.82 687.74,779.21 690.21,776.55 692.68,773.86 695.15,771.12 697.62,768.34 700.09,765.52 702.57,762.64 705.04,759.70 707.51,756.72 709.98,753.71 712.45,750.71 714.92,747.73 717.39,744.77 719.86,741.80 722.33,738.84 724.80,735.87 727.27,732.91 729.74,729.94 732.21,726.96 734.68,723.96 737.15,720.95 739.62,717.97 742.10,715.03 744.57,712.15 747.00,709.35 749.40,706.61 751.79,703.91 754.23,701.23 756.75,698.55 759.39,695.85 762.17,693.08 765.04,690.25 768.01,687.42 771.03,684.65 774.09,682.00 777.18,679.54 780.29,677.25 783.44,675.07 786.63,673.01 789.86,671.09 793.13,669.31 796.45,667.68 800.06,666.19 804.02,664.83 808.03,663.61 811.77,662.55 814.93,661.68 817.20,661.01" fill="none" stroke="#9b1d17" stroke-width="2.1" stroke-linejoin="round"/>
<polyline points="742.34,847.05 742.92,846.31 743.71,845.35 744.66,844.18 745.66,842.82 746.65,841.30 747.53,839.64 748.33,837.82 749.12,835.85 749.89,833.71 750.63,831.40 751.33,828.93 751.98,826.29 752.56,823.51 753.08,820.59 753.55,817.49 754.01,814.22 754.47,810.73 754.94,807.02 755.44,803.07 755.93,798.90 756.42,794.52 756.92,789.95 757.41,785.22 757.91,780.34 758.40,775.22 758.90,769.80 759.39,764.22 759.88,758.60 760.38,753.06 760.87,747.73 761.37,742.48 761.89,737.19 762.40,731.98 762.90,726.98 763.39,722.30 763.84,718.08 764.25,714.45 764.63,711.33 764.99,708.54 765.35,705.89 765.70,703.21 766.06,700.29 766.42,697.10 766.77,693.76 767.13,690.38 767.49,687.06 767.87,683.91 768.28,681.02 768.73,678.41 769.19,675.97 769.67,673.70 770.18,671.58 770.70,669.58 771.25,667.68 771.78,665.94 772.29,664.39 772.82,662.96 773.42,661.59 774.11,660.22 774.95,658.79 776.06,657.20 777.42,655.49 778.89,653.79 780.31,652.20 781.52,650.86 782.37,649.89" fill="none" stroke="#3a2a98" stroke-width="1.9" stroke-linejoin="round"/>
<circle cx="541.19" cy="844.38" r="5.1" fill="#9b1d17"/>
<circle cx="578.24" cy="843.34" r="5.1" fill="#9b1d17"/>
<circle cx="615.30" cy="842.90" r="5.1" fill="#9b1d17"/>
<circle cx="653.10" cy="837.41" r="5.1" fill="#9b1d17"/>
<circle cx="690.16" cy="788.20" r="5.1" fill="#9b1d17"/>
<circle cx="727.96" cy="680.58" r="5.1" fill="#9b1d17"/>
<rect x="723.31" y="846.55" width="9.3" height="9.3" fill="#3a2a98"/>
<rect x="760.67" y="702.61" width="9.3" height="9.3" fill="#3a2a98"/>
<text x="993.00" y="530.00" font-size="42" text-anchor="start" font-weight="bold" >d</text>
<text x="1166.00" y="556.00" font-size="25.3" text-anchor="middle" >Vero C1008</text>
<text x="1166.00" y="580.00" font-size="25.3" text-anchor="middle" >cells</text>
<line x1="1235.60" y1="560.60" x2="1259.20" y2="560.60" stroke="#000" stroke-width="2.6" />
<polygon points="1258.20,555.00 1269.20,560.60 1258.20,566.20" fill="#000"/>
<text x="1309.50" y="556.20" font-size="25.3" text-anchor="middle" fill="#981b15" >SFN</text>
<text x="1309.50" y="580.20" font-size="25.3" text-anchor="middle" fill="#981b15" >added</text>
<line x1="1355.00" y1="560.60" x2="1423.20" y2="560.60" stroke="#000" stroke-width="2.6" />
<polygon points="1422.20,555.00 1433.20,560.60 1422.20,566.20" fill="#000"/>
<text x="1394.00" y="553.00" font-size="21" text-anchor="middle" >24 h</text>
<text x="1488.00" y="556.20" font-size="25.3" text-anchor="middle" fill="#981b15" >SFN</text>
<text x="1487.50" y="580.20" font-size="25.3" text-anchor="middle" fill="#981b15" >removed</text>
<line x1="1546.00" y1="560.60" x2="1570.40" y2="560.60" stroke="#000" stroke-width="2.6" />
<polygon points="1569.40,555.00 1580.40,560.60 1569.40,566.20" fill="#000"/>
<text x="1586.30" y="566.20" font-size="25.3" text-anchor="start" >HCoV-OC43</text>
<line x1="1739.50" y1="560.60" x2="1763.70" y2="560.60" stroke="#000" stroke-width="2.6" />
<polygon points="1762.70,555.00 1773.70,560.60 1762.70,566.20" fill="#000"/>
<text x="1784.50" y="566.20" font-size="25.3" text-anchor="start" >Readout</text>
<line x1="1108.40" y1="716.10" x2="1431.60" y2="716.10" stroke="#000" stroke-width="2" />
<line x1="1109.40" y1="715.10" x2="1109.40" y2="729.10" stroke="#000" stroke-width="2" />
<text transform="translate(1109.40,752.60) scale(1.0,1.03)" font-size="21" text-anchor="middle" >-2</text>
<line x1="1189.70" y1="715.10" x2="1189.70" y2="729.10" stroke="#000" stroke-width="2" />
<text transform="translate(1189.70,752.60) scale(1.0,1.03)" font-size="21" text-anchor="middle" >-1</text>
<line x1="1350.30" y1="715.10" x2="1350.30" y2="729.10" stroke="#000" stroke-width="2" />
<text transform="translate(1350.30,752.60) scale(1.0,1.03)" font-size="21" text-anchor="middle" >1</text>
<line x1="1430.60" y1="715.10" x2="1430.60" y2="729.10" stroke="#000" stroke-width="2" />
<text transform="translate(1430.60,752.60) scale(1.0,1.03)" font-size="21" text-anchor="middle" >2</text>
<line x1="1270.00" y1="647.36" x2="1270.00" y2="852.58" stroke="#000" stroke-width="2" />
<line x1="1257.50" y1="648.36" x2="1271.00" y2="648.36" stroke="#000" stroke-width="2" />
<text transform="translate(1253.80,655.76) scale(1.0,1.03)" font-size="21" text-anchor="end" >2</text>
<line x1="1257.50" y1="682.23" x2="1271.00" y2="682.23" stroke="#000" stroke-width="2" />
<text transform="translate(1253.80,689.63) scale(1.0,1.03)" font-size="21" text-anchor="end" >1</text>
<line x1="1257.50" y1="749.97" x2="1271.00" y2="749.97" stroke="#000" stroke-width="2" />
<text transform="translate(1253.80,757.37) scale(1.0,1.03)" font-size="21" text-anchor="end" >-1</text>
<line x1="1257.50" y1="783.84" x2="1271.00" y2="783.84" stroke="#000" stroke-width="2" />
<text transform="translate(1253.80,791.24) scale(1.0,1.03)" font-size="21" text-anchor="end" >-2</text>
<line x1="1257.50" y1="817.71" x2="1271.00" y2="817.71" stroke="#000" stroke-width="2" />
<text transform="translate(1253.80,825.11) scale(1.0,1.03)" font-size="21" text-anchor="end" >-3</text>
<line x1="1257.50" y1="851.58" x2="1271.00" y2="851.58" stroke="#000" stroke-width="2" />
<text transform="translate(1253.80,858.98) scale(1.0,1.03)" font-size="21" text-anchor="end" >-4</text>
<text x="1269.50" y="888.00" font-size="21" text-anchor="middle" >log(D)</text>
<text transform="translate(1080.80,717.60) rotate(-90)" font-size="21" text-anchor="middle">log(fa/fu)</text>
<line x1="1270.00" y1="788.58" x2="1430.60" y2="679.86" stroke="#000" stroke-width="2.2" />
<circle cx="1270.00" cy="783.84" r="5.1" fill="#9b1d17"/>
<circle cx="1310.15" cy="763.18" r="5.1" fill="#9b1d17"/>
<circle cx="1349.50" cy="750.31" r="5.1" fill="#9b1d17"/>
<circle cx="1390.45" cy="695.78" r="5.1" fill="#9b1d17"/>
<line x1="1535.85" y1="851.70" x2="1839.60" y2="851.70" stroke="#000" stroke-width="2" />
<line x1="1548.85" y1="646.90" x2="1548.85" y2="852.70" stroke="#000" stroke-width="2" />
<line x1="1826.60" y1="646.90" x2="1826.60" y2="852.70" stroke="#000" stroke-width="2" />
<line x1="1535.85" y1="851.70" x2="1548.85" y2="851.70" stroke="#000" stroke-width="2" />
<line x1="1826.60" y1="851.70" x2="1839.60" y2="851.70" stroke="#000" stroke-width="2" />
<text transform="translate(1527.55,859.10) scale(1.0,1.03)" font-size="21" text-anchor="end" >0</text>
<text transform="translate(1843.00,859.10) scale(1.0,1.03)" font-size="21" text-anchor="start" >0</text>
<line x1="1535.85" y1="810.94" x2="1548.85" y2="810.94" stroke="#000" stroke-width="2" />
<line x1="1826.60" y1="810.94" x2="1839.60" y2="810.94" stroke="#000" stroke-width="2" />
<text transform="translate(1527.55,818.34) scale(1.0,1.03)" font-size="21" text-anchor="end" >20</text>
<text transform="translate(1843.00,818.34) scale(1.0,1.03)" font-size="21" text-anchor="start" >20</text>
<line x1="1535.85" y1="770.18" x2="1548.85" y2="770.18" stroke="#000" stroke-width="2" />
<line x1="1826.60" y1="770.18" x2="1839.60" y2="770.18" stroke="#000" stroke-width="2" />
<text transform="translate(1527.55,777.58) scale(1.0,1.03)" font-size="21" text-anchor="end" >40</text>
<text transform="translate(1843.00,777.58) scale(1.0,1.03)" font-size="21" text-anchor="start" >40</text>
<line x1="1535.85" y1="729.42" x2="1548.85" y2="729.42" stroke="#000" stroke-width="2" />
<line x1="1826.60" y1="729.42" x2="1839.60" y2="729.42" stroke="#000" stroke-width="2" />
<text transform="translate(1527.55,736.82) scale(1.0,1.03)" font-size="21" text-anchor="end" >60</text>
<text transform="translate(1843.00,736.82) scale(1.0,1.03)" font-size="21" text-anchor="start" >60</text>
<line x1="1535.85" y1="688.66" x2="1548.85" y2="688.66" stroke="#000" stroke-width="2" />
<line x1="1826.60" y1="688.66" x2="1839.60" y2="688.66" stroke="#000" stroke-width="2" />
<text transform="translate(1527.55,696.06) scale(1.0,1.03)" font-size="21" text-anchor="end" >80</text>
<text transform="translate(1843.00,696.06) scale(1.0,1.03)" font-size="21" text-anchor="start" >80</text>
<line x1="1535.85" y1="647.90" x2="1548.85" y2="647.90" stroke="#000" stroke-width="2" />
<line x1="1826.60" y1="647.90" x2="1839.60" y2="647.90" stroke="#000" stroke-width="2" />
<text transform="translate(1527.55,655.30) scale(1.0,1.03)" font-size="21" text-anchor="end" >100</text>
<text transform="translate(1843.00,655.30) scale(1.0,1.03)" font-size="21" text-anchor="start" >100</text>
<line x1="1548.85" y1="850.70" x2="1548.85" y2="864.70" stroke="#000" stroke-width="2" />
<text transform="translate(1548.85,887.40) scale(1.0,1.03)" font-size="21" text-anchor="middle" >0.1</text>
<line x1="1623.80" y1="850.70" x2="1623.80" y2="864.70" stroke="#000" stroke-width="2" />
<text transform="translate(1623.80,887.40) scale(1.0,1.03)" font-size="21" text-anchor="middle" >1</text>
<line x1="1698.75" y1="850.70" x2="1698.75" y2="864.70" stroke="#000" stroke-width="2" />
<text transform="translate(1698.75,887.40) scale(1.0,1.03)" font-size="21" text-anchor="middle" >10</text>
<line x1="1773.70" y1="850.70" x2="1773.70" y2="864.70" stroke="#000" stroke-width="2" />
<text transform="translate(1773.70,887.40) scale(1.0,1.03)" font-size="21" text-anchor="middle" >100</text>
<text x="1687.22" y="921.50" font-size="21" text-anchor="middle" >SFN (µM)</text>
<text transform="translate(1489.50,742.50) rotate(-90)" font-size="21" text-anchor="middle">% Inhibition</text>
<text transform="translate(1881.00,761.00) rotate(90)" font-size="21" text-anchor="middle">% Cytotoxicity</text>
<circle cx="1482.30" cy="812.80" r="5.1" fill="#9b1d17"/>
<rect x="1884.35" y="674.25" width="9.3" height="9.3" fill="#3a2a98"/>
<text transform="translate(1567.00,639.50) scale(1,1.03)" font-size="21">IC<tspan font-size="10.5" dy="4">50</tspan><tspan dy="-4"> = 21 µM</tspan></text>
<text transform="translate(1564.00,666.50) scale(1,1.03)" font-size="21">TD<tspan font-size="10.5" dy="4">50</tspan><tspan dy="-4"> = 91 µM</tspan></text>
<text transform="translate(1568.50,690.00) scale(1,1.03)" font-size="21">TI<tspan font-size="10.5" dy="4">50</tspan><tspan dy="-4"> = 4</tspan></text>
<polyline points="1625.08,846.31 1626.37,845.91 1628.16,845.37 1630.27,844.73 1632.55,844.03 1634.83,843.30 1636.94,842.60 1638.92,841.94 1640.89,841.28 1642.87,840.61 1644.85,839.88 1646.82,839.08 1648.80,838.15 1650.81,837.11 1652.86,835.96 1654.92,834.73 1656.93,833.43 1658.85,832.10 1660.66,830.74 1662.33,829.38 1663.90,828.00 1665.38,826.57 1666.81,825.09 1668.19,823.52 1669.55,821.85 1670.89,820.08 1672.19,818.22 1673.44,816.29 1674.66,814.27 1675.83,812.17 1676.97,809.99 1678.06,807.72 1679.11,805.38 1680.12,802.95 1681.08,800.44 1682.01,797.84 1682.89,795.17 1683.72,792.37 1684.49,789.46 1685.21,786.46 1685.91,783.42 1686.62,780.38 1687.34,777.38 1688.08,774.41 1688.82,771.45 1689.57,768.48 1690.31,765.52 1691.05,762.55 1691.79,759.59 1692.53,756.62 1693.27,753.66 1694.01,750.69 1694.75,747.73 1695.49,744.77 1696.24,741.80 1696.96,738.84 1697.66,735.87 1698.37,732.91 1699.09,729.94 1699.86,726.98 1700.68,724.01 1701.59,721.05 1702.55,718.08 1703.56,715.12 1704.58,712.15 1705.61,709.19 1706.61,706.22 1707.58,703.22 1708.53,700.18 1709.48,697.14 1710.46,694.15 1711.47,691.23 1712.54,688.44 1713.67,685.76 1714.85,683.16 1716.06,680.65 1717.32,678.22 1718.62,675.88 1719.95,673.61 1721.33,671.41 1722.75,669.27 1724.22,667.22 1725.72,665.27 1727.26,663.44 1728.85,661.75 1730.46,660.23 1732.09,658.84 1733.76,657.58 1735.49,656.43 1737.31,655.35 1739.22,654.34 1741.43,653.38 1743.95,652.47 1746.54,651.65 1749.00,650.94 1751.08,650.34 1752.57,649.89" fill="none" stroke="#9b1d17" stroke-width="3.2" stroke-dasharray="3.2 3.2" stroke-linejoin="round"/>
<polyline points="1668.81,847.34 1670.19,846.78 1672.11,846.02 1674.37,845.11 1676.80,844.09 1679.21,842.99 1681.41,841.86 1683.45,840.68 1685.48,839.42 1687.48,838.09 1689.46,836.69 1691.39,835.23 1693.27,833.71 1695.09,832.14 1696.84,830.52 1698.55,828.84 1700.24,827.09 1701.94,825.26 1703.65,823.33 1705.38,821.30 1707.11,819.16 1708.84,816.94 1710.57,814.66 1712.29,812.33 1714.02,809.99 1715.75,807.64 1717.48,805.27 1719.21,802.86 1720.94,800.38 1722.67,797.82 1724.40,795.17 1726.13,792.37 1727.86,789.46 1729.59,786.46 1731.32,783.42 1733.05,780.38 1734.78,777.38 1736.51,774.41 1738.24,771.45 1739.97,768.48 1741.70,765.52 1743.42,762.55 1745.15,759.59 1746.88,756.62 1748.61,753.66 1750.34,750.69 1752.07,747.73 1753.80,744.77 1755.53,741.80 1757.26,738.82 1758.99,735.82 1760.72,732.81 1762.45,729.83 1764.18,726.89 1765.91,724.01 1767.64,721.17 1769.37,718.36 1771.10,715.58 1772.82,712.87 1774.55,710.24 1776.28,707.71 1777.98,705.31 1779.63,703.04 1781.29,700.85 1782.98,698.70 1784.76,696.55 1786.66,694.36 1788.71,692.11 1790.89,689.81 1793.15,687.51 1795.44,685.25 1797.74,683.08 1800.00,681.02 1802.24,679.11 1804.50,677.29 1806.76,675.56 1809.01,673.89 1811.20,672.26 1813.34,670.65 1815.54,668.98 1817.84,667.24 1820.11,665.55 1822.18,664.00 1823.93,662.70 1825.20,661.75" fill="none" stroke="#9b1d17" stroke-width="3.2" stroke-dasharray="3.2 3.2" stroke-linejoin="round"/>
<polyline points="1645.84,847.34 1647.79,846.72 1650.50,845.88 1653.71,844.88 1657.15,843.73 1660.54,842.47 1663.62,841.12 1666.50,839.65 1669.39,838.02 1672.24,836.28 1674.99,834.46 1677.57,832.61 1679.93,830.74 1682.00,828.90 1683.83,827.06 1685.49,825.18 1687.07,823.22 1688.65,821.13 1690.31,818.88 1692.05,816.44 1693.82,813.83 1695.59,811.10 1697.33,808.29 1699.04,805.43 1700.68,802.58 1702.27,799.70 1703.81,796.76 1705.32,793.78 1706.78,790.77 1708.20,787.77 1709.58,784.79 1710.90,781.82 1712.16,778.86 1713.38,775.89 1714.57,772.93 1715.77,769.97 1716.99,767.00 1718.22,764.04 1719.46,761.07 1720.69,758.11 1721.93,755.14 1723.17,752.18 1724.40,749.21 1725.64,746.25 1726.87,743.28 1728.11,740.32 1729.34,737.35 1730.58,734.39 1731.81,731.42 1733.03,728.46 1734.23,725.49 1735.43,722.53 1736.64,719.57 1737.90,716.60 1739.22,713.64 1740.62,710.64 1742.08,707.60 1743.58,704.56 1745.10,701.56 1746.62,698.64 1748.12,695.85 1749.58,693.18 1751.03,690.60 1752.47,688.11 1753.94,685.69 1755.44,683.33 1757.01,681.02 1758.60,678.77 1760.20,676.58 1761.83,674.45 1763.55,672.38 1765.39,670.37 1767.39,668.42 1769.40,666.54 1771.34,664.72 1773.41,662.96 1775.79,661.26 1778.66,659.62 1782.21,658.05 1787.00,656.47 1792.97,654.86 1799.45,653.32 1805.71,651.93 1811.07,650.76 1814.82,649.89" fill="none" stroke="#9b1d17" stroke-width="2.1" stroke-linejoin="round"/>
<polyline points="1682.15,847.05 1684.45,846.48 1687.67,845.72 1691.46,844.81 1695.49,843.76 1699.42,842.62 1702.91,841.42 1706.01,840.14 1709.00,838.77 1711.89,837.30 1714.68,835.73 1717.37,834.04 1719.95,832.22 1722.41,830.28 1724.73,828.19 1726.95,826.00 1729.09,823.70 1731.20,821.33 1733.29,818.88 1735.37,816.37 1737.41,813.78 1739.41,811.10 1741.37,808.34 1743.28,805.50 1745.15,802.58 1746.97,799.55 1748.72,796.43 1750.43,793.22 1752.13,789.95 1753.82,786.64 1755.53,783.31 1757.28,779.93 1759.04,776.50 1760.81,773.02 1762.56,769.53 1764.26,766.03 1765.91,762.55 1767.46,759.11 1768.93,755.69 1770.35,752.27 1771.78,748.83 1773.25,745.35 1774.80,741.80 1776.43,738.16 1778.10,734.44 1779.80,730.68 1781.55,726.92 1783.35,723.20 1785.18,719.57 1787.07,715.99 1789.02,712.43 1791.01,708.91 1793.03,705.46 1795.04,702.08 1797.04,698.81 1798.96,695.67 1800.82,692.64 1802.69,689.69 1804.61,686.79 1806.66,683.91 1808.90,681.02 1811.54,677.94 1814.61,674.66 1817.79,671.39 1820.81,668.37 1823.38,665.82 1825.20,663.98" fill="none" stroke="#3a2a98" stroke-width="1.9" stroke-linejoin="round"/>
<circle cx="1623.60" cy="848.23" r="5.1" fill="#9b1d17"/>
<circle cx="1661.40" cy="842.60" r="5.1" fill="#9b1d17"/>
<circle cx="1698.46" cy="833.41" r="5.1" fill="#9b1d17"/>
<circle cx="1736.26" cy="688.73" r="5.1" fill="#9b1d17"/>
<circle cx="1661.40" cy="848.23" r="5.1" fill="#3a2a98"/>
<circle cx="1698.16" cy="826.74" r="5.1" fill="#3a2a98"/>
<circle cx="1735.96" cy="848.23" r="5.1" fill="#3a2a98"/>
<circle cx="1773.32" cy="676.28" r="5.1" fill="#3a2a98"/>
<text x="-0.70" y="1002.50" font-size="42" text-anchor="start" font-weight="bold" >e</text>
<text x="78.80" y="1052.00" font-size="25.3" text-anchor="start" >Vero C1008 cells</text>
<line x1="283.20" y1="1046.80" x2="307.30" y2="1046.80" stroke="#000" stroke-width="2.6" />
<polygon points="306.30,1041.20 317.30,1046.80 306.30,1052.40" fill="#000"/>
<text x="391.00" y="1042.60" font-size="25.3" text-anchor="middle" fill="#981b15" >Remdesivir</text>
<text x="391.30" y="1067.00" font-size="25.3" text-anchor="middle" fill="#981b15" >added</text>
<text x="510.20" y="1039.80" font-size="21" text-anchor="middle" >1-2 h</text>
<line x1="462.20" y1="1046.80" x2="548.40" y2="1046.80" stroke="#000" stroke-width="2.6" />
<polygon points="547.40,1041.20 558.40,1046.80 547.40,1052.40" fill="#000"/>
<text x="566.50" y="1052.40" font-size="25.3" text-anchor="start" >HCoV-OC43</text>
<line x1="716.40" y1="1046.80" x2="740.60" y2="1046.80" stroke="#000" stroke-width="2.6" />
<polygon points="739.60,1041.20 750.60,1046.80 739.60,1052.40" fill="#000"/>
<text x="758.20" y="1052.40" font-size="25.3" text-anchor="start" >Readout</text>
<line x1="99.90" y1="1202.80" x2="423.10" y2="1202.80" stroke="#000" stroke-width="2" />
<line x1="100.90" y1="1201.80" x2="100.90" y2="1215.80" stroke="#000" stroke-width="2" />
<text transform="translate(100.90,1239.30) scale(1.0,1.03)" font-size="21" text-anchor="middle" >-2</text>
<line x1="181.20" y1="1201.80" x2="181.20" y2="1215.80" stroke="#000" stroke-width="2" />
<text transform="translate(181.20,1239.30) scale(1.0,1.03)" font-size="21" text-anchor="middle" >-1</text>
<line x1="341.80" y1="1201.80" x2="341.80" y2="1215.80" stroke="#000" stroke-width="2" />
<text transform="translate(341.80,1239.30) scale(1.0,1.03)" font-size="21" text-anchor="middle" >1</text>
<line x1="422.10" y1="1201.80" x2="422.10" y2="1215.80" stroke="#000" stroke-width="2" />
<text transform="translate(422.10,1239.30) scale(1.0,1.03)" font-size="21" text-anchor="middle" >2</text>
<line x1="261.50" y1="1134.06" x2="261.50" y2="1339.28" stroke="#000" stroke-width="2" />
<line x1="249.00" y1="1135.06" x2="262.50" y2="1135.06" stroke="#000" stroke-width="2" />
<text transform="translate(245.30,1142.46) scale(1.0,1.03)" font-size="21" text-anchor="end" >2</text>
<line x1="249.00" y1="1168.93" x2="262.50" y2="1168.93" stroke="#000" stroke-width="2" />
<text transform="translate(245.30,1176.33) scale(1.0,1.03)" font-size="21" text-anchor="end" >1</text>
<line x1="249.00" y1="1236.67" x2="262.50" y2="1236.67" stroke="#000" stroke-width="2" />
<text transform="translate(245.30,1244.07) scale(1.0,1.03)" font-size="21" text-anchor="end" >-1</text>
<line x1="249.00" y1="1270.54" x2="262.50" y2="1270.54" stroke="#000" stroke-width="2" />
<text transform="translate(245.30,1277.94) scale(1.0,1.03)" font-size="21" text-anchor="end" >-2</text>
<line x1="249.00" y1="1304.41" x2="262.50" y2="1304.41" stroke="#000" stroke-width="2" />
<text transform="translate(245.30,1311.81) scale(1.0,1.03)" font-size="21" text-anchor="end" >-3</text>
<line x1="249.00" y1="1338.28" x2="262.50" y2="1338.28" stroke="#000" stroke-width="2" />
<text transform="translate(245.30,1345.68) scale(1.0,1.03)" font-size="21" text-anchor="end" >-4</text>
<text x="261.00" y="1374.70" font-size="21" text-anchor="middle" >log(D)</text>
<text transform="translate(72.30,1204.30) rotate(-90)" font-size="21" text-anchor="middle">log(fa/fu)</text>
<line x1="181.20" y1="1261.06" x2="422.10" y2="1186.88" stroke="#000" stroke-width="2.2" />
<circle cx="182.00" cy="1260.38" r="5.1" fill="#9b1d17"/>
<circle cx="222.15" cy="1249.88" r="5.1" fill="#9b1d17"/>
<circle cx="261.50" cy="1243.78" r="5.1" fill="#9b1d17"/>
<circle cx="301.65" cy="1218.72" r="5.1" fill="#9b1d17"/>
<circle cx="341.80" cy="1209.24" r="5.1" fill="#9b1d17"/>
<circle cx="381.95" cy="1202.12" r="5.1" fill="#9b1d17"/>
<line x1="527.35" y1="1338.40" x2="831.10" y2="1338.40" stroke="#000" stroke-width="2" />
<line x1="540.35" y1="1133.60" x2="540.35" y2="1339.40" stroke="#000" stroke-width="2" />
<line x1="818.10" y1="1133.60" x2="818.10" y2="1339.40" stroke="#000" stroke-width="2" />
<line x1="527.35" y1="1338.40" x2="540.35" y2="1338.40" stroke="#000" stroke-width="2" />
<line x1="818.10" y1="1338.40" x2="831.10" y2="1338.40" stroke="#000" stroke-width="2" />
<text transform="translate(519.05,1345.80) scale(1.0,1.03)" font-size="21" text-anchor="end" >0</text>
<text transform="translate(834.50,1345.80) scale(1.0,1.03)" font-size="21" text-anchor="start" >0</text>
<line x1="527.35" y1="1297.64" x2="540.35" y2="1297.64" stroke="#000" stroke-width="2" />
<line x1="818.10" y1="1297.64" x2="831.10" y2="1297.64" stroke="#000" stroke-width="2" />
<text transform="translate(519.05,1305.04) scale(1.0,1.03)" font-size="21" text-anchor="end" >20</text>
<text transform="translate(834.50,1305.04) scale(1.0,1.03)" font-size="21" text-anchor="start" >20</text>
<line x1="527.35" y1="1256.88" x2="540.35" y2="1256.88" stroke="#000" stroke-width="2" />
<line x1="818.10" y1="1256.88" x2="831.10" y2="1256.88" stroke="#000" stroke-width="2" />
<text transform="translate(519.05,1264.28) scale(1.0,1.03)" font-size="21" text-anchor="end" >40</text>
<text transform="translate(834.50,1264.28) scale(1.0,1.03)" font-size="21" text-anchor="start" >40</text>
<line x1="527.35" y1="1216.12" x2="540.35" y2="1216.12" stroke="#000" stroke-width="2" />
<line x1="818.10" y1="1216.12" x2="831.10" y2="1216.12" stroke="#000" stroke-width="2" />
<text transform="translate(519.05,1223.52) scale(1.0,1.03)" font-size="21" text-anchor="end" >60</text>
<text transform="translate(834.50,1223.52) scale(1.0,1.03)" font-size="21" text-anchor="start" >60</text>
<line x1="527.35" y1="1175.36" x2="540.35" y2="1175.36" stroke="#000" stroke-width="2" />
<line x1="818.10" y1="1175.36" x2="831.10" y2="1175.36" stroke="#000" stroke-width="2" />
<text transform="translate(519.05,1182.76) scale(1.0,1.03)" font-size="21" text-anchor="end" >80</text>
<text transform="translate(834.50,1182.76) scale(1.0,1.03)" font-size="21" text-anchor="start" >80</text>
<line x1="527.35" y1="1134.60" x2="540.35" y2="1134.60" stroke="#000" stroke-width="2" />
<line x1="818.10" y1="1134.60" x2="831.10" y2="1134.60" stroke="#000" stroke-width="2" />
<text transform="translate(519.05,1142.00) scale(1.0,1.03)" font-size="21" text-anchor="end" >100</text>
<text transform="translate(834.50,1142.00) scale(1.0,1.03)" font-size="21" text-anchor="start" >100</text>
<line x1="540.35" y1="1337.40" x2="540.35" y2="1351.40" stroke="#000" stroke-width="2" />
<text transform="translate(540.35,1374.10) scale(1.0,1.03)" font-size="21" text-anchor="middle" >0.1</text>
<line x1="615.30" y1="1337.40" x2="615.30" y2="1351.40" stroke="#000" stroke-width="2" />
<text transform="translate(615.30,1374.10) scale(1.0,1.03)" font-size="21" text-anchor="middle" >1</text>
<line x1="690.25" y1="1337.40" x2="690.25" y2="1351.40" stroke="#000" stroke-width="2" />
<text transform="translate(690.25,1374.10) scale(1.0,1.03)" font-size="21" text-anchor="middle" >10</text>
<line x1="765.20" y1="1337.40" x2="765.20" y2="1351.40" stroke="#000" stroke-width="2" />
<text transform="translate(765.20,1374.10) scale(1.0,1.03)" font-size="21" text-anchor="middle" >100</text>
<text x="678.73" y="1412.00" font-size="21" text-anchor="middle" >Remdesivir (µM)</text>
<text transform="translate(481.00,1229.20) rotate(-90)" font-size="21" text-anchor="middle">% Inhibition</text>
<text transform="translate(872.50,1247.70) rotate(90)" font-size="21" text-anchor="middle">% Cytotoxicity</text>
<circle cx="473.80" cy="1299.50" r="5.1" fill="#9b1d17"/>
<rect x="875.85" y="1160.95" width="9.3" height="9.3" fill="#3a2a98"/>
<text transform="translate(561.50,1130.50) scale(1,1.03)" font-size="21">IC<tspan font-size="10.5" dy="4">50</tspan><tspan dy="-4"> = 22 µM</tspan></text>
<text transform="translate(561.50,1157.80) scale(1,1.03)" font-size="21">TD<tspan font-size="10.5" dy="4">50</tspan><tspan dy="-4"> = 142 µM</tspan></text>
<text transform="translate(563.00,1181.00) scale(1,1.03)" font-size="21">TI<tspan font-size="10.5" dy="4">50</tspan><tspan dy="-4"> = 6</tspan></text>
<polyline points="544.45,1331.82 546.37,1331.43 549.00,1330.89 552.14,1330.25 555.54,1329.55 558.98,1328.82 562.24,1328.12 565.38,1327.42 568.60,1326.69 571.87,1325.94 575.14,1325.18 578.36,1324.42 581.51,1323.67 584.57,1322.95 587.60,1322.24 590.59,1321.54 593.53,1320.82 596.43,1320.05 599.29,1319.22 602.10,1318.36 604.84,1317.47 607.54,1316.54 610.22,1315.55 612.90,1314.47 615.60,1313.29 618.34,1312.00 621.09,1310.60 623.85,1309.13 626.58,1307.59 629.27,1306.00 631.91,1304.40 634.46,1302.79 636.96,1301.16 639.41,1299.49 641.84,1297.76 644.28,1295.94 646.73,1294.02 649.20,1291.99 651.67,1289.85 654.14,1287.63 656.61,1285.35 659.08,1283.03 661.55,1280.68 664.04,1278.32 666.55,1275.91 669.06,1273.46 671.55,1270.97 673.99,1268.43 676.38,1265.86 678.69,1263.24 680.93,1260.59 683.14,1257.89 685.33,1255.15 687.51,1252.37 689.72,1249.55 691.94,1246.67 694.17,1243.73 696.39,1240.75 698.61,1237.75 700.84,1234.75 703.06,1231.77 705.28,1228.80 707.51,1225.84 709.73,1222.87 711.95,1219.91 714.18,1216.94 716.40,1213.98 718.61,1210.98 720.79,1207.94 722.98,1204.90 725.19,1201.90 727.43,1198.98 729.74,1196.19 732.13,1193.53 734.57,1190.97 737.06,1188.50 739.57,1186.09 742.08,1183.72 744.57,1181.36 747.04,1179.02 749.51,1176.70 751.98,1174.42 754.45,1172.20 756.92,1170.06 759.39,1168.02 761.83,1166.11 764.22,1164.29 766.62,1162.56 769.05,1160.89 771.57,1159.26 774.21,1157.65 776.92,1156.04 779.65,1154.46 782.46,1152.92 785.41,1151.44 788.57,1150.05 792.00,1148.75 796.06,1147.52 800.79,1146.34 805.71,1145.23 810.39,1144.25 814.37,1143.43 817.20,1142.82" fill="none" stroke="#9b1d17" stroke-width="3.2" stroke-dasharray="3.2 3.2" stroke-linejoin="round"/>
<polyline points="565.20,1334.34 566.96,1334.08 569.37,1333.74 572.24,1333.32 575.36,1332.85 578.51,1332.34 581.51,1331.82 584.39,1331.30 587.33,1330.76 590.31,1330.18 593.31,1329.56 596.31,1328.88 599.29,1328.12 602.26,1327.29 605.22,1326.42 608.19,1325.48 611.15,1324.47 614.12,1323.37 617.08,1322.19 620.05,1320.90 623.01,1319.50 625.98,1318.02 628.94,1316.48 631.91,1314.90 634.87,1313.29 637.84,1311.69 640.80,1310.06 643.77,1308.38 646.73,1306.65 649.69,1304.84 652.66,1302.92 655.62,1300.88 658.59,1298.75 661.55,1296.53 664.52,1294.24 667.48,1291.92 670.45,1289.58 673.41,1287.23 676.38,1284.86 679.34,1282.44 682.31,1279.97 685.27,1277.41 688.24,1274.75 691.20,1271.94 694.17,1268.99 697.13,1265.95 700.09,1262.89 703.06,1259.88 706.02,1256.97 708.99,1254.16 711.95,1251.42 714.92,1248.72 717.88,1246.04 720.85,1243.36 723.81,1240.66 726.78,1237.92 729.74,1235.17 732.71,1232.41 735.67,1229.68 738.64,1226.99 741.60,1224.35 744.57,1221.80 747.53,1219.30 750.50,1216.85 753.46,1214.42 756.42,1211.98 759.39,1209.53 762.35,1207.04 765.32,1204.53 768.28,1202.03 771.25,1199.54 774.21,1197.09 777.18,1194.71 780.09,1192.39 782.94,1190.12 785.79,1187.90 788.71,1185.70 791.74,1183.53 794.97,1181.36 798.67,1179.08 802.87,1176.64 807.20,1174.23 811.27,1172.00 814.73,1170.13 817.20,1168.76" fill="none" stroke="#9b1d17" stroke-width="3.2" stroke-dasharray="3.2 3.2" stroke-linejoin="round"/>
<polyline points="544.45,1334.05 546.37,1333.82 549.00,1333.53 552.14,1333.17 555.54,1332.76 558.98,1332.31 562.24,1331.82 565.38,1331.30 568.60,1330.73 571.87,1330.11 575.14,1329.46 578.36,1328.80 581.51,1328.12 584.56,1327.43 587.55,1326.72 590.49,1325.99 593.42,1325.24 596.35,1324.46 599.29,1323.67 602.26,1322.90 605.22,1322.16 608.19,1321.40 611.15,1320.57 614.12,1319.61 617.08,1318.48 620.05,1317.16 623.01,1315.68 625.98,1314.08 628.94,1312.39 631.91,1310.63 634.87,1308.85 637.84,1307.03 640.80,1305.17 643.77,1303.24 646.73,1301.24 649.69,1299.16 652.66,1296.99 655.62,1294.71 658.59,1292.32 661.55,1289.86 664.52,1287.33 667.48,1284.76 670.45,1282.17 673.43,1279.55 676.43,1276.89 679.43,1274.20 682.42,1271.46 685.36,1268.68 688.24,1265.86 691.04,1262.98 693.78,1260.04 696.48,1257.06 699.16,1254.06 701.84,1251.05 704.54,1248.07 707.26,1245.11 709.98,1242.14 712.69,1239.18 715.41,1236.21 718.13,1233.25 720.85,1230.28 723.57,1227.30 726.28,1224.30 729.00,1221.30 731.72,1218.31 734.44,1215.37 737.15,1212.49 739.85,1209.67 742.53,1206.89 745.21,1204.16 747.91,1201.46 750.66,1198.80 753.46,1196.19 756.30,1193.63 759.17,1191.14 762.08,1188.68 765.04,1186.25 768.09,1183.82 771.25,1181.36 774.48,1178.88 777.78,1176.37 781.16,1173.86 784.64,1171.37 788.25,1168.93 792.00,1166.54 796.24,1164.08 801.01,1161.49 805.90,1158.94 810.50,1156.60 814.41,1154.63 817.20,1153.20" fill="none" stroke="#9b1d17" stroke-width="2.1" stroke-linejoin="round"/>
<polyline points="714.18,1334.34 715.74,1333.80 717.91,1333.08 720.48,1332.20 723.21,1331.20 725.88,1330.08 728.26,1328.86 730.38,1327.57 732.43,1326.20 734.42,1324.72 736.36,1323.08 738.25,1321.26 740.12,1319.22 741.95,1316.93 743.74,1314.39 745.49,1311.67 747.20,1308.82 748.87,1305.88 750.50,1302.92 752.08,1299.90 753.62,1296.77 755.13,1293.56 756.59,1290.29 758.01,1286.98 759.39,1283.65 760.71,1280.29 761.97,1276.89 763.19,1273.46 764.39,1269.98 765.58,1266.46 766.80,1262.89 768.05,1259.26 769.33,1255.54 770.60,1251.78 771.85,1248.02 773.06,1244.30 774.21,1240.66 775.27,1237.11 776.24,1233.63 777.18,1230.19 778.11,1226.77 779.09,1223.35 780.14,1219.91 781.29,1216.41 782.50,1212.88 783.76,1209.34 785.03,1205.85 786.30,1202.44 787.55,1199.15 788.77,1196.00 789.97,1192.95 791.17,1189.98 792.39,1187.07 793.64,1184.21 794.97,1181.36 796.31,1178.54 797.66,1175.76 799.04,1173.03 800.51,1170.33 802.10,1167.67 803.86,1165.06 805.98,1162.33 808.47,1159.46 811.09,1156.63 813.58,1154.02 815.70,1151.83 817.20,1150.24" fill="none" stroke="#3a2a98" stroke-width="1.9" stroke-linejoin="round"/>
<circle cx="541.19" cy="1333.31" r="5.1" fill="#9b1d17"/>
<circle cx="578.24" cy="1329.60" r="5.1" fill="#9b1d17"/>
<circle cx="615.30" cy="1325.90" r="5.1" fill="#9b1d17"/>
<circle cx="653.10" cy="1285.13" r="5.1" fill="#9b1d17"/>
<circle cx="690.16" cy="1256.67" r="5.1" fill="#9b1d17"/>
<circle cx="727.96" cy="1232.06" r="5.1" fill="#9b1d17"/>
<rect x="685.51" y="1330.58" width="9.3" height="9.3" fill="#3a2a98"/>
<rect x="723.31" y="1330.58" width="9.3" height="9.3" fill="#3a2a98"/>
<rect x="760.67" y="1227.71" width="9.3" height="9.3" fill="#3a2a98"/>
<text x="994.50" y="1002.00" font-size="42" text-anchor="start" font-weight="bold" >f</text>
<text x="1084.90" y="1017.10" font-size="25.3" text-anchor="start" >Vero C1008 cells</text>
<line x1="1289.10" y1="1012.30" x2="1313.30" y2="1012.30" stroke="#000" stroke-width="2.6" />
<polygon points="1312.30,1006.70 1323.30,1012.30 1312.30,1017.90" fill="#000"/>
<text x="1389.00" y="993.00" font-size="25.3" text-anchor="middle" fill="#981b15" >SFN and</text>
<text x="1391.00" y="1017.10" font-size="25.3" text-anchor="middle" fill="#981b15" >remdesivir</text>
<text x="1392.00" y="1041.00" font-size="25.3" text-anchor="middle" fill="#981b15" >added</text>
<line x1="1459.90" y1="1012.00" x2="1546.00" y2="1012.00" stroke="#000" stroke-width="2.6" />
<polygon points="1545.00,1006.40 1556.00,1012.00 1545.00,1017.60" fill="#000"/>
<text x="1508.00" y="1004.90" font-size="21" text-anchor="middle" >1-2 h</text>
<text x="1567.50" y="1017.60" font-size="25.3" text-anchor="start" >HCoV-OC43</text>
<line x1="1723.80" y1="1012.00" x2="1775.70" y2="1012.00" stroke="#000" stroke-width="2.6" />
<polygon points="1774.70,1006.40 1785.70,1012.00 1774.70,1017.60" fill="#000"/>
<text x="1799.20" y="1017.60" font-size="25.3" text-anchor="start" >Readout</text>
<line x1="1128.30" y1="1316.20" x2="1346.20" y2="1316.20" stroke="#000" stroke-width="2" />
<line x1="1140.70" y1="1110.70" x2="1140.70" y2="1317.20" stroke="#000" stroke-width="2" />
<line x1="1128.30" y1="1316.20" x2="1140.70" y2="1316.20" stroke="#000" stroke-width="2" />
<line x1="1140.70" y1="1316.20" x2="1140.70" y2="1328.90" stroke="#000" stroke-width="2" />
<text transform="translate(1124.80,1323.60) scale(1.0,1.03)" font-size="21" text-anchor="end" >0.0</text>
<text transform="translate(1140.70,1352.30) scale(1.0,1.03)" font-size="21" text-anchor="middle" >0.0</text>
<line x1="1128.30" y1="1213.95" x2="1140.70" y2="1213.95" stroke="#000" stroke-width="2" />
<line x1="1242.95" y1="1316.20" x2="1242.95" y2="1328.90" stroke="#000" stroke-width="2" />
<text transform="translate(1124.80,1221.35) scale(1.0,1.03)" font-size="21" text-anchor="end" >0.5</text>
<text transform="translate(1242.95,1352.30) scale(1.0,1.03)" font-size="21" text-anchor="middle" >0.5</text>
<line x1="1128.30" y1="1111.70" x2="1140.70" y2="1111.70" stroke="#000" stroke-width="2" />
<line x1="1345.20" y1="1316.20" x2="1345.20" y2="1328.90" stroke="#000" stroke-width="2" />
<text transform="translate(1124.80,1119.10) scale(1.0,1.03)" font-size="21" text-anchor="end" >1.0</text>
<text transform="translate(1345.20,1352.30) scale(1.0,1.03)" font-size="21" text-anchor="middle" >1.0</text>
<line x1="1140.70" y1="1111.70" x2="1345.20" y2="1316.20" stroke="#000" stroke-width="2" />
<text x="1242.90" y="1382.50" font-size="21" text-anchor="middle" >Remdesivir</text>
<text transform="translate(1081.5,1213.5) rotate(-90)" font-size="21" text-anchor="middle">Sulforaphane</text>
<circle cx="1144.20" cy="1115.00" r="5.1" fill="#9b1d17"/>
<circle cx="1147.50" cy="1190.00" r="5.1" fill="#9b1d17"/>
<circle cx="1141.40" cy="1203.10" r="5.1" fill="#9b1d17"/>
<circle cx="1150.40" cy="1255.60" r="5.1" fill="#9b1d17"/>
<circle cx="1152.80" cy="1293.20" r="5.1" fill="#9b1d17"/>
<circle cx="1168.70" cy="1299.30" r="5.1" fill="#9b1d17"/>
<circle cx="1315.90" cy="1283.00" r="5.1" fill="#9b1d17"/>
<text x="1150.50" y="1115.60" font-size="20.5" text-anchor="start" >f</text>
<text x="1153.50" y="1195.50" font-size="20.5" text-anchor="start" >e</text>
<text x="1145.50" y="1216.20" font-size="20.5" text-anchor="start" >g</text>
<text x="1156.80" y="1261.00" font-size="20.5" text-anchor="start" >d</text>
<text x="1155.00" y="1287.30" font-size="20.5" text-anchor="start" >c</text>
<text x="1176.30" y="1304.40" font-size="20.5" text-anchor="start" >b</text>
<text x="1323.50" y="1280.30" font-size="20.5" text-anchor="start" >a</text>
<line x1="1388.50" y1="1076.35" x2="1388.50" y2="1391.05" stroke="#000" stroke-width="1.6" />
<line x1="1491.30" y1="1076.35" x2="1491.30" y2="1391.05" stroke="#000" stroke-width="1.6" />
<line x1="1621.00" y1="1076.35" x2="1621.00" y2="1391.05" stroke="#000" stroke-width="1.6" />
<line x1="1717.20" y1="1076.35" x2="1717.20" y2="1391.05" stroke="#000" stroke-width="1.6" />
<line x1="1813.60" y1="1076.35" x2="1813.60" y2="1391.05" stroke="#000" stroke-width="1.6" />
<line x1="1903.60" y1="1076.35" x2="1903.60" y2="1391.05" stroke="#000" stroke-width="1.6" />
<line x1="1997.80" y1="1076.35" x2="1997.80" y2="1391.05" stroke="#000" stroke-width="1.6" />
<line x1="1387.75" y1="1077.10" x2="1998.55" y2="1077.10" stroke="#000" stroke-width="1.6" />
<line x1="1387.75" y1="1138.50" x2="1998.55" y2="1138.50" stroke="#000" stroke-width="1.6" />
<line x1="1387.75" y1="1174.30" x2="1998.55" y2="1174.30" stroke="#000" stroke-width="1.6" />
<line x1="1387.75" y1="1210.40" x2="1998.55" y2="1210.40" stroke="#000" stroke-width="1.6" />
<line x1="1387.75" y1="1246.30" x2="1998.55" y2="1246.30" stroke="#000" stroke-width="1.6" />
<line x1="1387.75" y1="1282.30" x2="1998.55" y2="1282.30" stroke="#000" stroke-width="1.6" />
<line x1="1387.75" y1="1318.50" x2="1998.55" y2="1318.50" stroke="#000" stroke-width="1.6" />
<line x1="1387.75" y1="1354.40" x2="1998.55" y2="1354.40" stroke="#000" stroke-width="1.6" />
<line x1="1387.75" y1="1390.30" x2="1998.55" y2="1390.30" stroke="#000" stroke-width="1.6" />
<text x="1439.90" y="1114.90" font-size="21" text-anchor="middle" font-weight="bold" >Letter</text>
<text x="1556.15" y="1114.90" font-size="21" text-anchor="middle" font-weight="bold" >Ratio</text>
<text x="1858.60" y="1114.90" font-size="21" text-anchor="middle" font-weight="bold" >Effect</text>
<text x="1950.70" y="1114.90" font-size="21" text-anchor="middle" font-weight="bold" >CI</text>
<text x="1669.10" y="1102.60" font-size="21" text-anchor="middle" font-weight="bold" >SFN</text>
<text x="1669.10" y="1128.30" font-size="21" text-anchor="middle" font-weight="bold" >(µM)</text>
<text x="1765.40" y="1102.60" font-size="21" text-anchor="middle" font-weight="bold" >RDV</text>
<text x="1765.40" y="1128.30" font-size="21" text-anchor="middle" font-weight="bold" >(µM)</text>
<text x="1439.90" y="1163.80" font-size="21" text-anchor="middle" >a</text>
<text transform="translate(1499.50,1163.80) scale(1.0,1.03)" font-size="21" text-anchor="start" >1:10</text>
<text transform="translate(1669.10,1163.80) scale(1.0,1.03)" font-size="21" text-anchor="middle" >3.2</text>
<text transform="translate(1765.40,1163.80) scale(1.0,1.03)" font-size="21" text-anchor="middle" >32</text>
<text transform="translate(1858.60,1163.80) scale(1.0,1.03)" font-size="21" text-anchor="middle" >0.43</text>
<text transform="translate(1950.70,1163.80) scale(1.0,1.03)" font-size="21" text-anchor="middle" >1.023</text>
<text x="1439.90" y="1199.60" font-size="21" text-anchor="middle" >b</text>
<text transform="translate(1499.50,1199.60) scale(1.0,1.03)" font-size="21" text-anchor="start" >1:3.125</text>
<text transform="translate(1669.10,1199.60) scale(1.0,1.03)" font-size="21" text-anchor="middle" >3.2</text>
<text transform="translate(1765.40,1199.60) scale(1.0,1.03)" font-size="21" text-anchor="middle" >10</text>
<text transform="translate(1858.60,1199.60) scale(1.0,1.03)" font-size="21" text-anchor="middle" >0.5</text>
<text transform="translate(1950.70,1199.60) scale(1.0,1.03)" font-size="21" text-anchor="middle" >0.223</text>
<text x="1439.90" y="1235.70" font-size="21" text-anchor="middle" >c</text>
<text transform="translate(1499.50,1235.70) scale(1.0,1.03)" font-size="21" text-anchor="start" >1:1</text>
<text transform="translate(1669.10,1235.70) scale(1.0,1.03)" font-size="21" text-anchor="middle" >3.2</text>
<text transform="translate(1765.40,1235.70) scale(1.0,1.03)" font-size="21" text-anchor="middle" >3.2</text>
<text transform="translate(1858.60,1235.70) scale(1.0,1.03)" font-size="21" text-anchor="middle" >0.47</text>
<text transform="translate(1950.70,1235.70) scale(1.0,1.03)" font-size="21" text-anchor="middle" >0.172</text>
<text x="1439.90" y="1271.60" font-size="21" text-anchor="middle" >d</text>
<text transform="translate(1499.50,1271.60) scale(1.0,1.03)" font-size="21" text-anchor="start" >1:0.3125</text>
<text transform="translate(1669.10,1271.60) scale(1.0,1.03)" font-size="21" text-anchor="middle" >3.2</text>
<text transform="translate(1765.40,1271.60) scale(1.0,1.03)" font-size="21" text-anchor="middle" >1</text>
<text transform="translate(1858.60,1271.60) scale(1.0,1.03)" font-size="21" text-anchor="middle" >0.37</text>
<text transform="translate(1950.70,1271.60) scale(1.0,1.03)" font-size="21" text-anchor="middle" >0.345</text>
<text x="1439.90" y="1307.60" font-size="21" text-anchor="middle" >e</text>
<text transform="translate(1499.50,1307.60) scale(1.0,1.03)" font-size="21" text-anchor="start" >1:0.1</text>
<text transform="translate(1669.10,1307.60) scale(1.0,1.03)" font-size="21" text-anchor="middle" >3.2</text>
<text transform="translate(1765.40,1307.60) scale(1.0,1.03)" font-size="21" text-anchor="middle" >0.32</text>
<text transform="translate(1858.60,1307.60) scale(1.0,1.03)" font-size="21" text-anchor="middle" >0.3</text>
<text transform="translate(1950.70,1307.60) scale(1.0,1.03)" font-size="21" text-anchor="middle" >0.653</text>
<text x="1439.90" y="1343.80" font-size="21" text-anchor="middle" >f</text>
<text transform="translate(1499.50,1343.80) scale(1.0,1.03)" font-size="21" text-anchor="start" >1:0.03125</text>
<text transform="translate(1669.10,1343.80) scale(1.0,1.03)" font-size="21" text-anchor="middle" >3.2</text>
<text transform="translate(1765.40,1343.80) scale(1.0,1.03)" font-size="21" text-anchor="middle" >0.1</text>
<text transform="translate(1858.60,1343.80) scale(1.0,1.03)" font-size="21" text-anchor="middle" >0.26</text>
<text transform="translate(1950.70,1343.80) scale(1.0,1.03)" font-size="21" text-anchor="middle" >1.003</text>
<text x="1439.90" y="1379.70" font-size="21" text-anchor="middle" >g</text>
<text transform="translate(1499.50,1379.70) scale(1.0,1.03)" font-size="21" text-anchor="start" >1:0.01</text>
<text transform="translate(1669.10,1379.70) scale(1.0,1.03)" font-size="21" text-anchor="middle" >3.2</text>
<text transform="translate(1765.40,1379.70) scale(1.0,1.03)" font-size="21" text-anchor="middle" >0.032</text>
<text transform="translate(1858.60,1379.70) scale(1.0,1.03)" font-size="21" text-anchor="middle" >0.31</text>
<text transform="translate(1950.70,1379.70) scale(1.0,1.03)" font-size="21" text-anchor="middle" >0.558</text>
</svg></body></html>
